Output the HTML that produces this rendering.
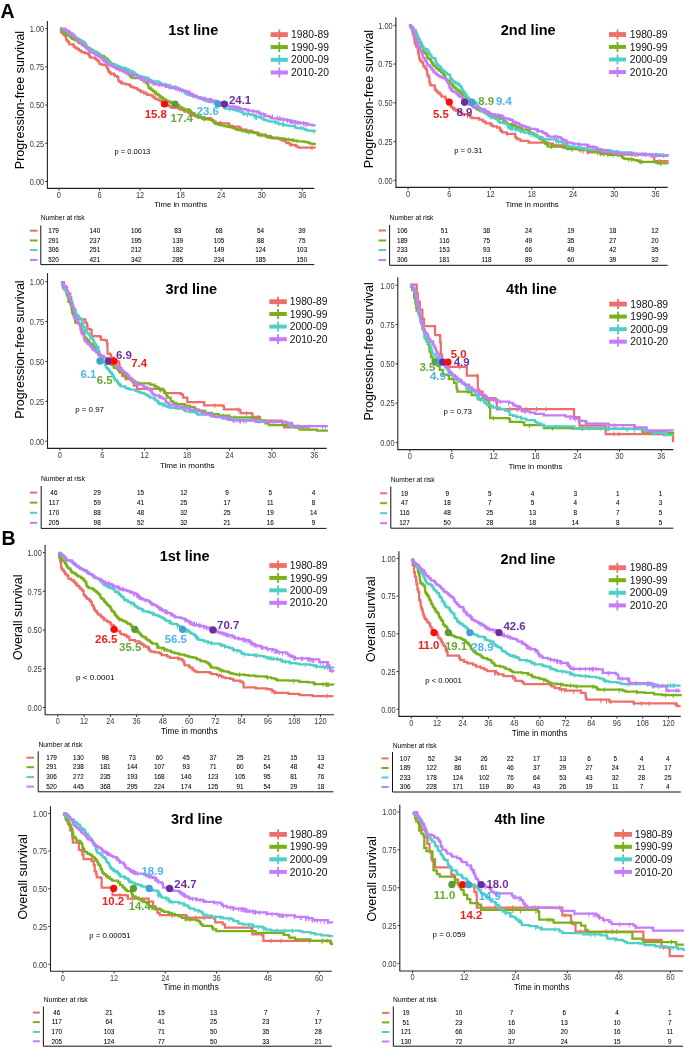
<!DOCTYPE html>
<html><head><meta charset="utf-8"><title>Kaplan-Meier curves</title>
<style>html,body{margin:0;padding:0;background:#fff;}body{width:685px;height:1048px;overflow:hidden;}svg{display:block;font-family:"Liberation Sans", sans-serif;will-change:transform;}</style>
</head><body>
<svg width="685" height="1048" viewBox="0 0 685 1048" font-family='"Liberation Sans", sans-serif'>
<text x="0.6" y="17.7" font-size="19.5" fill="#000" font-weight="bold">A</text>
<text x="1.4" y="545" font-size="19.5" fill="#000" font-weight="bold">B</text>
<path d="M47.4 20.9V188.4H314.3" fill="none" stroke="#222" stroke-width="1.1"/>
<text transform="translate(44.1 31.94) scale(0.9 1)" font-size="8.2" fill="#3a3a3a" text-anchor="end">1.00</text>
<text transform="translate(44.1 70.16) scale(0.9 1)" font-size="8.2" fill="#3a3a3a" text-anchor="end">0.75</text>
<text transform="translate(44.1 108.39) scale(0.9 1)" font-size="8.2" fill="#3a3a3a" text-anchor="end">0.50</text>
<text transform="translate(44.1 146.61) scale(0.9 1)" font-size="8.2" fill="#3a3a3a" text-anchor="end">0.25</text>
<text transform="translate(44.1 184.84) scale(0.9 1)" font-size="8.2" fill="#3a3a3a" text-anchor="end">0.00</text>
<text transform="translate(58.9 198.24) scale(0.9 1)" font-size="8.2" fill="#3a3a3a" text-anchor="middle">0</text>
<text transform="translate(99.48 198.24) scale(0.9 1)" font-size="8.2" fill="#3a3a3a" text-anchor="middle">6</text>
<text transform="translate(140.06 198.24) scale(0.9 1)" font-size="8.2" fill="#3a3a3a" text-anchor="middle">12</text>
<text transform="translate(180.64 198.24) scale(0.9 1)" font-size="8.2" fill="#3a3a3a" text-anchor="middle">18</text>
<text transform="translate(221.22 198.24) scale(0.9 1)" font-size="8.2" fill="#3a3a3a" text-anchor="middle">24</text>
<text transform="translate(261.8 198.24) scale(0.9 1)" font-size="8.2" fill="#3a3a3a" text-anchor="middle">30</text>
<text transform="translate(302.38 198.24) scale(0.9 1)" font-size="8.2" fill="#3a3a3a" text-anchor="middle">36</text>
<path d="M45.2 28.6H47.4M45.2 66.83H47.4M45.2 105.05H47.4M45.2 143.28H47.4M45.2 181.5H47.4M58.9 188.4V190.6M99.48 188.4V190.6M140.06 188.4V190.6M180.64 188.4V190.6M221.22 188.4V190.6M261.8 188.4V190.6M302.38 188.4V190.6" stroke="#333" stroke-width="1" fill="none"/>
<text x="180.7" y="207.11" font-size="7.8" fill="#000" text-anchor="middle">Time in months</text>
<text transform="translate(24.2 100) rotate(-90)" font-size="12.5" text-anchor="middle" fill="#000">Progression-free survival</text>
<text x="168.3" y="35" font-size="14.5" fill="#000" font-weight="bold">1st line</text>
<path d="M60.2 28.9H60.9V30.03H61.18V31.76H62.1V33.2H63.39V34.03H63.81V34.82H64.72V35.38H65.2V36.3H66.2V39.3H66.61V39.92H66.69V40.69H68.15V41.51H68.3V42.4H69.3V44.4H73.4V44.9H73.7V45.57H73.77V46.64H75.16V47.53H76.4V48.5H78.43V49.24H78.88V49.94H79.5V50.6H81.32V51.56H81.97V52.21H84.6V53.1H87.71V53.79H88.7V54.6H88.99V55.23H89.45V56.27H90.06V57.06H90.7V57.7H94.8V58.7H95.72V59.48H96.98V60.31H98.38V61.04H98.9V61.8H99.27V62.33H99.46V63.19H99.58V64.07H102V64.9H106.1V65.9H106.68V66.73H106.75V67.64H107.81V68.8H108.1V70H108.46V70.87H108.85V71.77H109.64V72.36H110.1V73H110.57V73.74H113.87V74.39H114.2V75.1H115.1V76.07H117.3V77.1H118.3V80.2H118.71V81.09H119.92V81.93H121.4V82.7H122.5V83.55H126V84.3H128.99V85.19H130.52V85.88H130.88V86.8H132.9V87.4H134.42V88.14H137.2V89.16H138.21V90.02H140.14V90.84H141V91.5H143.57V92.33H143.99V93.28H146.6V94.18H147.98V94.89H151.3V95.6H152.76V96.53H153.43V97.26H154.81V98.31H155.64V98.88H157.71V99.82H159.4V100.7H161.53V101.52H162.21V102.28H164V103.08H164.6V103.8H166.29V104.52H167.48V105.22H168.74V106.08H170.46V106.89H171.7V107.9H178.91V108.7H180V109.5H183.27V110.08H184.12V111.08H184.89V111.7H188.06V112.44H189.36V113.4H191.41V114.29H192.3V115.2H194.78V116.02H197.47V116.92H198.11V117.57H204.5V118.2H210.56V119.12H211.84V120.13H212.87V120.84H213.92V121.68H215.57V122.75H220.9V123.4H228.8V124.27H229.15V125.09H229.63V125.95H232.74V126.73H239.39V127.6H240.23V128.44H241.3V129.5H246.39V130.54H251.83V131.58H252.42V132.37H254.2V132.98H257.7V133.6H259.11V134.59H265.78V135.19H265.79V136.04H266.02V136.65H267.9V137.7H272.5V138.44H280.22V139.56H282.2V140.7H285.47V141.7H286.2V142.34H286.52V143.15H289.29V143.74H290.4V144.8H295.7V145.83H296.53V146.51H298.5V147.5H314.9V147.9" fill="none" stroke="#EE6E69" stroke-width="2.25" stroke-linejoin="miter" stroke-linecap="butt"/>
<path d="M110.83 71.07V75.67M120.83 79.94V84.54M140.69 89.04V93.64M146.5 91.39V95.99M192 112.76V117.36M204.57 115.92V120.52M220.37 120.93V125.53M258.28 131.53V136.13M258.78 131.74V136.34M261.17 132.7V137.3M290.98 142.69V147.29M311.89 145.53V150.13" stroke="#EE6E69" stroke-width="1" fill="none"/>
<path d="M60.1 28.6H60.92V28.96H61.09V29.56H61.6V30.19H62.3V30.62H62.45V31.27H62.66V31.84H64.2V32.2H65.28V32.62H65.76V33.18H66.33V33.58H66.49V34.18H67.06V34.71H68.3V35.2H69.26V35.77H69.63V36.3H70.69V36.67H70.87V37.3H71.06V37.92H72.09V38.48H72.19V38.94H73.89V39.36H74.9V39.81H75.4V40.3H77.26V40.73H77.99V41.28H78V41.79H78.6V42.31H78.91V42.87H80.24V43.3H81.34V43.85H81.93V44.35H82.41V44.83H82.87V45.41H84V46H85.04V46.42H85.9V46.93H86.14V47.41H88.69V47.9H88.9V48.47H90.15V49.01H90.47V49.42H90.88V49.99H92.8V50.6H93.55V51.18H94.29V51.69H95.74V52.19H96.9V52.6H97.53V53.19H98.7V53.68H98.88V54.16H99.17V54.6H99.28V55.15H100.9V55.7H102.46V56.12H103.88V56.63H104.05V57.04H105V57.65H105.19V58.28H106V58.7H106.94V59.12H107.45V59.67H107.98V60.3H108.14V60.77H108.78V61.31H109.59V61.7H109.77V62.29H110.1V62.8H110.82V63.38H111.65V63.78H113V64.4H113.24V64.94H115.17V65.45H116V66H117.83V66.52H118.1V67.05H119.56V67.47H120.15V67.96H121.59V68.45H122.4V69H122.77V69.41H125.38V69.86H125.57V70.48H126V71H126.87V71.67H128.25V72.16H128.64V72.81H128.73V73.37H128.96V74.14H129.41V74.89H129.9V75.63H130.38V76.48H130.8V77.2H132.02V77.69H133.44V78.05H140.16V78.66H141V79.3H142.86V79.77H143.08V80.21H143.78V80.76H145.42V81.25H145.78V81.78H145.83V82.35H146.01V82.82H147.2V83.4H147.82V84.13H148.06V84.78H148.37V85.34H148.46V85.9V86.42H148.64V87.13H148.69V87.91H149.83V88.51H151.23V89.07H151.36V89.96H152.8V90.72H153.3V91.5H155.18V91.97H155.49V92.48H155.79V92.91H156.01V93.4H156.1V93.92H157.9V94.45H158.33V94.96V95.41H159.71V95.83H160.08V96.55H160.3V97.05H161.5V97.7H163.01V98.3H163.29V98.97H163.73V99.39H165.51V99.9H166.36V100.41H166.48V100.83H168.02V101.42H168.31V101.9H168.89V102.3H172.45V102.8H173.41V103.23H174.8V103.8H177.09V104.34V104.9H177.66V105.38H179.2V105.73H179.32V106.27H179.36V106.83H180V107.4H181.87V108.02H182.28V108.48H183.85V108.9H184.04V109.39H189.22V110.01H189.84V110.59H190.4V111.12H190.59V111.62H191.02V112.19H191.47V112.73H192.3V113.1H194.32V113.67H194.6V114.21H194.71V114.56H195V115.16H195.68V115.75H196.66V116.27H200.14V116.75H200.63V117.27H202.35V117.86H203.15V118.3H203.6V118.92H204.5V119.3H210.12V119.79H211.99V120.32H212.58V120.96H213.52V121.62H214.11V122.29H214.18V122.76H215.08V123.35H215.99V123.99H217.77V124.39H219.1V124.79H220.9V125.4H224.08V126.01H226.22V126.42H227.81V126.91H230.37V127.41H232.76V127.87H234.08V128.41H235.22V129H236.87V129.52H238.22V130.05H241.3V130.5H245.06V131.04H245.49V131.44H246.65V132.09H253.64V132.66H256.89V133.1H257.48V133.72H257.55V134.17H257.72V134.63H258.47V135.22H261.7V135.6H266.14V136.16H269.47V136.63H270.26V137.22H271.25V137.72H277.72V138.32H282.2V138.7H284.45V139.12H286.24V139.64H291.49V140.23H293.3V140.66H297.23V141.28H302.6V141.7H305.43V142.1H307.88V142.72H309.57V143.18H310.11V143.54H313.14V144.17H314.9V144.8" fill="none" stroke="#78B11A" stroke-width="2.25" stroke-linejoin="miter" stroke-linecap="butt"/>
<path d="M116.19 63.79V68.39M143.75 78.82V83.42M151.06 86.22V90.82M154.87 90.39V94.99M155.81 91.1V95.7M161.77 95.52V100.12M170.83 99.68V104.28M174.09 101.18V105.78M177.5 103.37V107.97M182.68 106.34V110.94M187.2 108.44V113.04M198.32 113.86V118.46M201.72 115.59V120.19M203.88 116.68V121.28M242.85 128.59V133.19M248.99 130.12V134.72M269.47 134.48V139.08M271.57 134.79V139.39M288.88 137.38V141.98M293.31 138.03V142.63" stroke="#78B11A" stroke-width="1" fill="none"/>
<path d="M60.1 28.6H61.83V29.08H64.66V29.63H65.2V30.1H65.84V30.59H66.5V31.18H67.78V31.81H67.92V32.39H68.4V32.77H68.42V33.36H68.97V33.81H70.3V34.2H71.57V34.72H72.41V35.15H72.9V35.71H74.99V36.25H75.05V36.82H75.4V37.3H76.03V37.87H76.1V38.29H77.93V38.77H78.92V39.29H78.95V39.73H80.5V40.3H81.08V40.77H82.18V41.29H82.4V41.7H83.76V42.31H84.71V42.87H84.94V43.55H85V43.96H85.6V44.4H86.2V45.01H86.3V45.75H86.92V46.56H86.94V47.17H87.65V47.66H88.47V48.24H88.52V48.72H89.7V49.5H91.54V49.96H91.72V50.59H92.68V51.16H93.8V51.6H95.28V52.1H96.28V52.66H96.72V53.05H97.9V53.6H98.46V54.14H98.53V54.58H99.43V54.96H100.32V55.42H101.05V55.87H101.15V56.47H101.74V57.04H102V57.7H102.56V58.09H104.47V58.58H104.57V59.03H105.39V59.74H105.49V60.26H106.01V60.66H106.43V61.13H107.1V61.8H108.48V62.38H108.76V62.74H110.18V63.28H110.55V63.85H110.79V64.42H113.2V64.9H116.11V65.47H117.2V66H118.34V66.39H119.3V66.9H120.09V67.25H122.51V67.83H125.09V68.42H126V69H127.48V69.64H128.29V70.25H128.73V70.78H131.56V71.2H132.03V71.71H132.9V72.1H134.15V72.67H134.3V73.31H134.76V73.83H136.21V74.21H136.67V74.83H137.52V75.26H137.6V75.8H140.72V76.2H141.23V76.79H143.1V77.2H144.53V77.69H147.91V78.25H148.2V78.93H148.71V79.36H149.36V79.78H150.24V80.22H151.14V80.82H153.3V81.3H156.42V81.7H158.85V82.18H159.27V82.63H160.29V83.29H160.88V83.95H163.5V84.4H165.96V84.82H166.43V85.28H167.51V85.86H167.92V86.32H171.89V86.93H175.8V87.4H176.33V87.84H176.78V88.22H176.79V88.61H177.96V89.14H178.04V89.59H180V90.2H182.73V90.67H184.37V91.17H184.4V91.54H184.5V92.03H184.88V92.56H185.28V93.14H186.83V93.53H187.02V94.16H187.09V94.67H189.64V95.1H190.68V95.55H193.02V96.21H195.43V96.82H197.55V97.38H198.44V98.03H199.08V98.44H200.4V98.8H202.49V99.34H203.3V99.76H204.13V100.18H206.58V100.71H207.18V101.22H208.98V101.68H209.26V102.1H214.46V102.64H216.36V103.31H217.8V104H219.4V104.44H220.47V104.85H221.76V105.36H222.55V105.94H223.49V106.31H224.25V106.99H224.54V107.64H224.55V108.18H225.03V108.56H229V109H232.52V109.62H233.95V110.03H236.33V110.63H238.49V111.27H241.16V111.77H241.19V112.21H242.78V112.67H242.97V113.21H242.98V113.61H245.4V114.2H250.82V114.81H253.71V115.37H254.52V115.88H256.13V116.5H258.8V117.09H261.13V117.44H261.37V117.87H261.54V118.31H262.86V118.84H262.91V119.23H263.91V119.78H265.8V120.3H267.94V120.8H269.13V121.29H270.55V121.65H275.51V122.22H276.03V122.73H277.67V123.3H278.86V123.82H282.72V124.28H283.35V124.9H286.3V125.4H288.69V125.91H294.46V126.35H295.01V126.91H295.34V127.57H296.77V128.09H302.6V128.5H304.63V129.24H305.07V129.69H306.57V130.17H307.31V130.58H311.82V131.06H314.9V131.5" fill="none" stroke="#4FCFC7" stroke-width="2.25" stroke-linejoin="miter" stroke-linecap="butt"/>
<path d="M99.76 53.16V57.76M101.95 55.35V59.95M115.62 63.39V67.99M126.42 66.89V71.49M129.78 68.4V73M158.94 80.71V85.31M166.06 82.72V87.32M169.34 83.52V88.12M170.28 83.75V88.35M175.2 84.95V89.55M181.89 88.7V93.3M192.46 93.15V97.75M194.1 93.85V98.45M204.45 97.71V102.31M206.66 98.37V102.97M213.87 100.53V105.13M223.32 104.16V108.76M229.59 106.89V111.49M243.87 111.42V116.02M247.51 112.53V117.13M254.7 114.68V119.28M255.84 115.02V119.62M256.39 115.19V119.79M256.52 115.23V119.83M274.85 120.25V124.85M278.76 121.22V125.82M282.55 122.17V126.77M283.51 122.41V127.01M301.16 125.93V130.53M314.06 128.99V133.59" stroke="#4FCFC7" stroke-width="1" fill="none"/>
<path d="M60.1 28.6H65.2V29.1H65.63V29.57H65.69V30.16H65.9V30.65H67.88V31.18H68.68V31.73H69.3V32.2H69.82V32.48V32.87H71.59V33.35H72.01V33.68H72.17V34.11H72.96V34.4H73.18V34.72H73.4V35.2H73.8V36.05H74.41V36.57H74.77V37.47H75.95V38.01H76V38.7H76.4V39.3H76.97V39.6H77.33V39.97H78.2V40.33H78.86V40.62H79.17V41.11H79.74V41.57V41.92H80.1V42.42H80.66V42.89H81.5V43.4H82.35V43.8H82.82V44.21H83.43V44.6H83.44V45.19H84V45.73H85.56V46.32H85.86V46.95H85.95V47.59H86.03V48.14H86.6V48.5H88.16V49.11H88.39V49.69H88.45V50.08H88.74V50.47H89.49V51.06H89.87V51.59H90.24V51.99H90.7V52.6H93.98V53.13H94.63V53.58H95.22V54H95.69V54.32H95.83V54.79H96.23V55.27H96.9V55.7H98.42V56.21H98.73V56.67H100.43V57.28H101.32V58.04H102V58.7H102.46V59.4H103.29V60.03H103.78V60.68H104.03V61.11H104.47V61.58H105.06V62.2H106.1V62.8H107.09V63.38H108.14V63.89H108.27V64.33H109.54V64.78H110.09V65.41H111.2V65.9H112.46V66.25H113.06V66.61H113.52V66.98H114.58V67.4H114.67V67.85H115.08V68.23H116.95V68.55H117.3V68.9H119.28V69.53H119.74V70H121.21V70.49H122.4V71H122.89V71.49H124.32V72.29H126V73H126.93V73.28H128.35V73.74H131.31V74.03H131.46V74.35H132V74.82H132.9V75.2H136.63V75.86H136.8V76.39H137.35V76.8H137.49V77.42H139.46V78.03H140.22V78.49H141.42V78.88H143.1V79.3H145.46V79.88H145.5V80.38H146.42V80.95H148.97V81.41H149.9V81.89H151.22V82.43H152.05V83.02H153.3V83.4H154.79V83.84H155.84V84.18H157.6V84.67H159.62V85.05H163.5V85.4H165.41V85.89H166.18V86.26H166.9V86.76H169.25V87.15H169.73V87.5H170.16V87.83V88.21H175.8V88.5H179.52V89.04H180V89.6H182.59V90.16H183.29V90.83H185.58V91.33H187.3V91.94H189.32V92.47H189.82V92.97H189.85V93.44H190.02V93.99H191.56V94.59H191.94V95.14H192.71V95.65H194.54V96.13H196.24V96.67H196.93V97.16H200.4V97.8H202.82V98.4H202.92V98.97H205.05V99.36H210.62V99.75H211.67V100.25H212.39V100.66H215.83V101.29H216.8V101.9H218.24V102.48H218.39V103.06H222.36V103.44H224V104H226.15V104.62H226.56V105.25H227.77V105.82H229.28V106.46H231.11V106.93H234.74V107.59H239.35V107.96H240.13V108.52H241.3V109H245.42V109.37H245.63V109.65H246.12V109.95H247.16V110.34H248.51V110.64H252.95V111.07H253.75V111.44H257.37V111.74H258.19V112.04H258.57V112.29H259.06V112.61H259.14V112.95H259.48V113.36H260.21V113.79H261.7V114.2H264.39V114.56H264.7V114.98H264.94V115.38H264.97V115.75H265.21V116.01H269.1V116.41H269.54V116.83H270.07V117.19H270.91V117.51H271.07V117.86H271.91V118.29H276.69V118.63H277.64V119.02H282.2V119.3H284.18V119.71H285.9V120.08H288.34V120.4H290.4V120.78H290.56V121.19H293.28V121.59H293.49V121.93H294.4V122.3H297.06V122.67H298.95V122.96H303.71V123.37H306.96V123.73H307.73V124.23H308.18V124.56H311.68V125.02H312.02V125.39H314.9V125.8" fill="none" stroke="#C47CFB" stroke-width="2.25" stroke-linejoin="miter" stroke-linecap="butt"/>
<path d="M116.67 66.29V70.89M119.84 67.65V72.25M127.03 71.03V75.63M131.54 72.47V77.07M131.72 72.53V77.13M133.58 73.17V77.77M140.18 75.82V80.42M141.04 76.17V80.77M141.6 76.4V81M141.64 76.41V81.01M141.99 76.55V81.15M143.04 76.98V81.58M143.66 77.22V81.82M144.33 77.49V82.09M145.54 77.98V82.58M148.35 79.11V83.71M153.15 81.04V85.64M154.58 81.35V85.95M159.15 82.25V86.85M161.77 82.76V87.36M165.05 83.49V88.09M169.31 84.57V89.17M175.13 86.03V90.63M177.31 86.59V91.19M177.63 86.68V91.28M179.54 87.18V91.78M179.87 87.27V91.87M186.08 89.74V94.34M188.72 90.81V95.41M189.91 91.28V95.88M193.36 92.67V97.27M196.36 93.88V98.48M204.78 96.6V101.2M205.97 96.89V101.49M209.39 97.75V102.35M209.75 97.84V102.44M210.15 97.94V102.54M211.3 98.23V102.83M218.02 99.95V104.55M220.96 100.81V105.41M221.92 101.09V105.69M224.03 101.71V106.31M226.81 102.51V107.11M233.13 104.34V108.94M234.02 104.59V109.19M236.16 105.21V109.81M236.91 105.43V110.03M238.13 105.78V110.38M239.06 106.05V110.65M248.24 108.47V113.07M248.46 108.52V113.12M253.05 109.69V114.29M256.17 110.49V115.09M261.02 111.73V116.33M263.3 112.3V116.9M265.93 112.95V117.55M272.36 114.55V119.15M272.62 114.62V119.22M277.4 115.81V120.41M279.35 116.29V120.89M280.58 116.6V121.2M283.03 117.2V121.8M283.35 117.28V121.88M287.22 118.23V122.83M287.72 118.36V122.96M290.05 118.93V123.53M290.53 119.05V123.65M291.48 119.28V123.88M292.02 119.41V124.01M293.47 119.77V124.37M295.55 120.2V124.8M295.61 120.21V124.81M297.18 120.48V125.08M298.27 120.66V125.26M300.43 121.03V125.63M303.68 121.58V126.18M303.69 121.59V126.19M305.12 121.83V126.43M306.63 122.09V126.69" stroke="#C47CFB" stroke-width="1" fill="none"/>
<rect x="270.7" y="32.2" width="17.2" height="4.8" fill="#EE6E69"/>
<rect x="278.4" y="29.6" width="1.8" height="10" fill="#EE6E69"/>
<text x="291.1" y="38.29" font-size="10.3" fill="#111">1980-89</text>
<rect x="270.7" y="45.1" width="17.2" height="4" fill="#78B11A"/>
<rect x="278.4" y="42.1" width="1.8" height="10" fill="#78B11A"/>
<text x="291.1" y="50.79" font-size="10.3" fill="#111">1990-99</text>
<rect x="270.7" y="57.8" width="17.2" height="4" fill="#4FCFC7"/>
<rect x="278.4" y="54.8" width="1.8" height="10" fill="#4FCFC7"/>
<text x="291.1" y="63.49" font-size="10.3" fill="#111">2000-09</text>
<rect x="270.7" y="70.5" width="17.2" height="4" fill="#C47CFB"/>
<rect x="278.4" y="67.5" width="1.8" height="10" fill="#C47CFB"/>
<text x="291.1" y="76.19" font-size="10.3" fill="#111">2010-20</text>
<text x="114.6" y="154.19" font-size="7.5" fill="#000">p = 0.0013</text>
<circle cx="164.5" cy="104" r="3.6" fill="#FF0A0A"/>
<circle cx="175" cy="104" r="3.6" fill="#5E9A35"/>
<circle cx="218" cy="104" r="3.6" fill="#479FD0"/>
<circle cx="224.4" cy="104" r="3.6" fill="#6A2C9E"/>
<text x="144.7" y="118.28" font-size="11.4" fill="#F01D1D" font-weight="bold">15.8</text>
<text x="170.6" y="122.28" font-size="11.4" fill="#69A838" font-weight="bold">17.4</text>
<text x="196.7" y="115.28" font-size="11.4" fill="#4DB5EC" font-weight="bold">23.6</text>
<text x="229" y="103.78" font-size="11.4" fill="#6E2FA0" font-weight="bold">24.1</text>
<text x="40.7" y="220.23" font-size="6.75" fill="#000">Number at risk</text>
<path d="M40.8 225.5V264.6H314.3" fill="none" stroke="#111" stroke-width="1"/>
<rect x="30" y="229.7" width="7.5" height="2" fill="#EE6E69"/>
<text x="53.5" y="232.99" font-size="6.4" fill="#000" text-anchor="middle" stroke="#000" stroke-width="0.06">179</text>
<text x="94.9" y="232.99" font-size="6.4" fill="#000" text-anchor="middle" stroke="#000" stroke-width="0.06">140</text>
<text x="136.3" y="232.99" font-size="6.4" fill="#000" text-anchor="middle" stroke="#000" stroke-width="0.06">106</text>
<text x="177.7" y="232.99" font-size="6.4" fill="#000" text-anchor="middle" stroke="#000" stroke-width="0.06">83</text>
<text x="219.1" y="232.99" font-size="6.4" fill="#000" text-anchor="middle" stroke="#000" stroke-width="0.06">68</text>
<text x="260.5" y="232.99" font-size="6.4" fill="#000" text-anchor="middle" stroke="#000" stroke-width="0.06">54</text>
<text x="301.9" y="232.99" font-size="6.4" fill="#000" text-anchor="middle" stroke="#000" stroke-width="0.06">39</text>
<rect x="30" y="239.5" width="7.5" height="2" fill="#78B11A"/>
<text x="53.5" y="242.79" font-size="6.4" fill="#000" text-anchor="middle" stroke="#000" stroke-width="0.06">291</text>
<text x="94.9" y="242.79" font-size="6.4" fill="#000" text-anchor="middle" stroke="#000" stroke-width="0.06">237</text>
<text x="136.3" y="242.79" font-size="6.4" fill="#000" text-anchor="middle" stroke="#000" stroke-width="0.06">195</text>
<text x="177.7" y="242.79" font-size="6.4" fill="#000" text-anchor="middle" stroke="#000" stroke-width="0.06">139</text>
<text x="219.1" y="242.79" font-size="6.4" fill="#000" text-anchor="middle" stroke="#000" stroke-width="0.06">105</text>
<text x="260.5" y="242.79" font-size="6.4" fill="#000" text-anchor="middle" stroke="#000" stroke-width="0.06">88</text>
<text x="301.9" y="242.79" font-size="6.4" fill="#000" text-anchor="middle" stroke="#000" stroke-width="0.06">75</text>
<rect x="30" y="249.1" width="7.5" height="2" fill="#4FCFC7"/>
<text x="53.5" y="252.39" font-size="6.4" fill="#000" text-anchor="middle" stroke="#000" stroke-width="0.06">306</text>
<text x="94.9" y="252.39" font-size="6.4" fill="#000" text-anchor="middle" stroke="#000" stroke-width="0.06">251</text>
<text x="136.3" y="252.39" font-size="6.4" fill="#000" text-anchor="middle" stroke="#000" stroke-width="0.06">212</text>
<text x="177.7" y="252.39" font-size="6.4" fill="#000" text-anchor="middle" stroke="#000" stroke-width="0.06">182</text>
<text x="219.1" y="252.39" font-size="6.4" fill="#000" text-anchor="middle" stroke="#000" stroke-width="0.06">149</text>
<text x="260.5" y="252.39" font-size="6.4" fill="#000" text-anchor="middle" stroke="#000" stroke-width="0.06">124</text>
<text x="301.9" y="252.39" font-size="6.4" fill="#000" text-anchor="middle" stroke="#000" stroke-width="0.06">103</text>
<rect x="30" y="258.9" width="7.5" height="2" fill="#C47CFB"/>
<text x="53.5" y="262.19" font-size="6.4" fill="#000" text-anchor="middle" stroke="#000" stroke-width="0.06">520</text>
<text x="94.9" y="262.19" font-size="6.4" fill="#000" text-anchor="middle" stroke="#000" stroke-width="0.06">421</text>
<text x="136.3" y="262.19" font-size="6.4" fill="#000" text-anchor="middle" stroke="#000" stroke-width="0.06">342</text>
<text x="177.7" y="262.19" font-size="6.4" fill="#000" text-anchor="middle" stroke="#000" stroke-width="0.06">285</text>
<text x="219.1" y="262.19" font-size="6.4" fill="#000" text-anchor="middle" stroke="#000" stroke-width="0.06">234</text>
<text x="260.5" y="262.19" font-size="6.4" fill="#000" text-anchor="middle" stroke="#000" stroke-width="0.06">185</text>
<text x="301.9" y="262.19" font-size="6.4" fill="#000" text-anchor="middle" stroke="#000" stroke-width="0.06">150</text>
<path d="M395.9 17.3V187.4H667.7" fill="none" stroke="#222" stroke-width="1.1"/>
<text transform="translate(392.6 28.64) scale(0.9 1)" font-size="8.2" fill="#3a3a3a" text-anchor="end">1.00</text>
<text transform="translate(392.6 67.39) scale(0.9 1)" font-size="8.2" fill="#3a3a3a" text-anchor="end">0.75</text>
<text transform="translate(392.6 106.14) scale(0.9 1)" font-size="8.2" fill="#3a3a3a" text-anchor="end">0.50</text>
<text transform="translate(392.6 144.89) scale(0.9 1)" font-size="8.2" fill="#3a3a3a" text-anchor="end">0.25</text>
<text transform="translate(392.6 183.64) scale(0.9 1)" font-size="8.2" fill="#3a3a3a" text-anchor="end">0.00</text>
<text transform="translate(408 197.14) scale(0.9 1)" font-size="8.2" fill="#3a3a3a" text-anchor="middle">0</text>
<text transform="translate(449.25 197.14) scale(0.9 1)" font-size="8.2" fill="#3a3a3a" text-anchor="middle">6</text>
<text transform="translate(490.5 197.14) scale(0.9 1)" font-size="8.2" fill="#3a3a3a" text-anchor="middle">12</text>
<text transform="translate(531.75 197.14) scale(0.9 1)" font-size="8.2" fill="#3a3a3a" text-anchor="middle">18</text>
<text transform="translate(573 197.14) scale(0.9 1)" font-size="8.2" fill="#3a3a3a" text-anchor="middle">24</text>
<text transform="translate(614.25 197.14) scale(0.9 1)" font-size="8.2" fill="#3a3a3a" text-anchor="middle">30</text>
<text transform="translate(655.5 197.14) scale(0.9 1)" font-size="8.2" fill="#3a3a3a" text-anchor="middle">36</text>
<path d="M393.7 25.3H395.9M393.7 64.05H395.9M393.7 102.8H395.9M393.7 141.55H395.9M393.7 180.3H395.9M408 187.4V189.6M449.25 187.4V189.6M490.5 187.4V189.6M531.75 187.4V189.6M573 187.4V189.6M614.25 187.4V189.6M655.5 187.4V189.6" stroke="#333" stroke-width="1" fill="none"/>
<text x="532.1" y="206.93" font-size="7.85" fill="#000" text-anchor="middle">Time in months</text>
<text transform="translate(373 99) rotate(-90)" font-size="12.5" text-anchor="middle" fill="#000">Progression-free survival</text>
<text x="500.8" y="35" font-size="14.5" fill="#000" font-weight="bold">2nd line</text>
<path d="M409.4 25.1H410.59V26.83H410.96V28.37H412.2V30.2H412.51V32.23H412.79V34.33H413.87V36.73H414.2V38.4H414.47V40.45H414.79V42.6H415.11V44.23H416.2V46.6H417.7V48.29H417.83V50.35H418.15V52.32H418.3V53.7H418.8V55.26H419.13V57.3H419.39V59.12H420.3V60.9H421.59V62.36H422.93V63.33H423.07V64.56H423.4V66H424.69V67.58H425.85V68.8H426.5V70H427.09V71.6H427.34V73.72H427.38V75.33H428.5V77.2H429.33V78.67H429.41V80.87H429.7V83.31H430.5V85.4H434.6V87.4H435.09V88.48H435.18V89.98H436.53V91.37H437.7V92.5H439.57V93.79H440.57V95.42H441.8V96.6H445.24V98.12H445.9V99.7H448.15V100.82H448.9V102.2H450.03V103.74H450.04V105.19H451V106.8H452.58V108.2H454.35V109.62H456.1V110.9H459.65V112.45H462.2V114H468.85V115.46H470.4V117H471.69V118.19H479.11V119.69H482.6V120.7H483.61V121.77H485.89V123.35H491.3V125.1H492.76V126.27H497.11V127.7H500.1V129.5H500.94V130.76H502.18V132.38H506.7V133.9H515.19V135.23H515.31V136.77H516.04V138.17H517.6V139.3H520.55V140.94H528.6V142.6H548.1V143.6H552.68V145.33H566.75V146.76H567.8V148H578.8V150.2H587.6V152.4H600.7V153.1H622.6V154.6H653.2V155.3H654.3V161.2H667.5V162.3" fill="none" stroke="#EE6E69" stroke-width="2.25" stroke-linejoin="miter" stroke-linecap="butt"/>
<path d="M452.83 105.97V110.57M453.73 106.7V111.3M462.19 111.69V116.29M467.39 113.6V118.2M489.98 122.13V126.73M499.68 126.99V131.59M507.27 131.88V136.48M553.22 142.44V147.04M556.13 143.09V147.69M563.09 144.65V149.25M564.53 144.97V149.57M566.63 145.44V150.04M583.13 148.98V153.58M587.76 150.11V154.71M604.31 151.05V155.65M611.44 151.54V156.14M635.58 152.6V157.2M637.98 152.65V157.25M652.54 152.98V157.58M652.68 152.99V157.59M658.97 159.29V163.89M659.73 159.35V163.95" stroke="#EE6E69" stroke-width="1" fill="none"/>
<path d="M409.4 25.1H410.77V26.13H410.9V26.95H411.41V27.85H412.58V28.81H412.81V29.55H414.2V30.2H414.83V31.31H415.03V32.1H415.8V33.12H416.83V34.14H417.13V35.32H417.56V36.55H417.61V37.48H418.3V38.4H419.06V39.62H419.73V41.04H419.98V42.6H421.01V43.92H421.1V45.63H421.3V46.6H422.75V47.75H422.92V48.95H423.1V50.42H423.4V51.7H424.41V52.4H425.46V53.3H426.27V54.02H426.99V55.1H427.16V56.06H427.28V57.05H427.5V57.8H428.65V58.82H430.19V59.93H431V60.71H431.14V61.74H431.81V62.36H432.28V63.13H432.6V63.9H433.24V64.7H433.64V65.9H435.6V66.69H436.04V67.58H436.16V68.43H437.96V69.14H438.7V70H439.77V70.66H441.03V71.83H441.41V72.5H443.21V73.52H443.42V74.37H443.8V75.2H444.83V76.25H445V77.3H445.42V78.16H445.68V79.27H445.91V79.95H447.54V80.63H448.9V81.3H450.08V81.98H450.16V83.08H450.21V83.72H451.77V84.63H452.78V85.72H452.89V86.39H454V87.4H455.02V88.06H456.15V88.95H456.54V89.73H458.01V90.39H459.1V91.5H460.7V92.34H461.75V93.33H461.83V93.98H462.6V94.74H464.2V95.6H465.01V96.25H466.11V96.98V97.89H467.08V98.68H467.17V99.72H469.4V100.7H470.38V101.63H470.64V102.37H470.99V103.3H471.35V104.28H472.25V105.32H472.6V106.28H472.83V107.18H475V107.8H476.89V108.77H478.2V109.8H479.94V110.69H483.12V111.58H483.78V112.45H485.66V113.3H489.2V114.2H491.01V115.07H491.99V115.81H494.51V116.93H499.15V117.66H500.1V118.5H502.81V119.37H503.24V120.52H503.91V121.41H504.91V122.63H506.39V123.36H507.97V124.32H511V125.1H514.37V125.87H514.66V126.79H517.83V127.58H520.39V128.49H522V129.5H526.94V130.24H529.1V131.17H529.55V132.12H530.35V132.94H533V133.9H534.58V134.66H535.84V135.49H537.08V136.47H538.32V137.42H539.53V138.52H540.71V139.44H542.9V140.41H543.8V141.5H545.09V142.38H545.26V143.12H545.46V143.95H547.14V144.66H547.37V145.56H548.1V146.5H561.3V146.9H563.43V147.4H566.5V148.19H567.8V149.1H585.85V150.05H589.7V151.3H599.85V152.21H600.11V153.05H600.7V153.9H608.42V154.86H618.2V155.7H621.85V156.91H622.6V157.9H623.78V158.7H625.94V159.24H633.5V160.1H637.02V160.78H640.1V161.8H655.71V162.5H657.6V163.4H667.5V164" fill="none" stroke="#78B11A" stroke-width="2.25" stroke-linejoin="miter" stroke-linecap="butt"/>
<path d="M453 83.91V88.51M460.91 90.66V95.26M476.12 106.2V110.8M480.25 108.32V112.92M486.39 110.77V115.37M499.02 115.77V120.37M499.58 116V120.6M504.06 118.6V123.2M506.18 119.88V124.48M510.96 122.78V127.38M512.35 123.34V127.94M516.94 125.17V129.77M551.28 144.3V148.9M551.54 144.3V148.9M572.15 147.24V151.84M580.62 148.09V152.69M597.47 150.84V155.44M600.36 151.52V156.12M603.27 151.86V156.46M607.71 152.32V156.92M613.33 152.9V157.5M628.68 156.83V161.43M631.26 157.35V161.95M639.19 159.27V163.87M640.56 159.54V164.14M642.03 159.68V164.28M660.69 161.29V165.89" stroke="#78B11A" stroke-width="1" fill="none"/>
<path d="M409.4 25.1H410.07V25.71H410.11V26.58H412.37V27.39H412.49V28.12H413.12V28.81H413.93V29.56H414.2V30.2H415.7V31.21H415.84V32.46H416.47V33.57H416.72V34.97H417.54V35.94H417.6V36.96H417.62V38.26H418.3V39.4H418.76V40.09H419.16V40.81H419.21V41.64H419.69V42.16H421.04V42.74H421.3V43.5H421.87V44.64H422.21V46.11H423.22V47.46H423.4V48.6H425.78V49.2H427.2V49.85H427.5V50.6H428.3V51.41H428.84V52.09H429.05V52.93H429.5V53.7H429.79V54.7H430.7V55.49H431.45V56.52H431.6V57.8H434.6V58.8H435.52V59.87H435.59V61.22H436V62.63H436.7V63.9H437.19V64.7H438.18V65.35H438.68V66.14H439.87V66.66H440.55V67.17H440.8V68H441.13V68.72H441.57V69.24H442.47V70.02H442.72V70.64H443.8V71.1H444.47V71.73H445.18V72.39H445.45V73.2H446.9V74.1H448.51V74.73H449.85V75.36H450.07V75.83H450.11V76.32V77.07H450.18V77.81H450.78V78.4H451V79.2H452.02V79.74H452.34V80.37H453V81.1H453.52V81.91H454.74V82.59H456.1V83.3H458.58V84H459.08V84.75H459.46V85.62H460.2V86.4H461.3V87.28H461.49V88.09H461.91V88.93H462.38V89.85H462.79V90.76H463.2V91.5H463.74V92.28H464.88V93.01H465.46V93.86H465.54V94.7H466.12V95.32H466.82V96.26H467.01V96.85H467.3V97.6H468.57V98.12H469.13V98.87H469.38V99.38H469.86V100.01H471.19V100.86H471.4V101.7H472.64V102.41H476.14V103.2H476.56V103.87H476.81V104.44H477.12V105.19H477.25V105.74H477.61V106.47H478.17V107.11H478.91V107.92H479.2V108.7H479.74V109.18H480.4V109.8H482.03V110.43H483.75V111.14H484.41V111.73H484.6V112.16H485.15V112.78H487.64V113.48H487.95V114.15H488.25V114.82H488.41V115.52H489.2V116.3H490.8V116.85H491.54V117.56H493.89V118.14H495.53V118.78H496.89V119.31H497.95V120.15H498.23V120.97H498.41V121.49H499.28V122.06H500.1V122.9H504.64V123.55H507.13V124.36H507.56V124.91H507.98V125.69H508.23V126.23H508.39V126.97H508.54V127.57H511V128.4H515.29V129.06H515.96V129.83H518.88V130.4H519.76V131.16H522V131.7H524.01V132.54H528.64V133.09H529.11V133.99H533.28V134.5H533.5V135.13H535V136H536.36V136.91H541.68V137.68H542.14V138.28H542.71V138.79H545.9V139.3H555.96V140.26H556.27V140.82H556.9V141.5H560.59V142.16H562.85V142.97H564.45V143.84H566.59V144.64H566.84V145.25H567.8V145.8H569.26V146.4H574.19V147.23H578.8V148H583.35V148.71H586.49V149.58H600.7V150.2H610.61V150.86H611.67V151.48H618.2V152.4H631.18V153.02H633.5V153.9H639.63V154.48H660.61V155.12H667.5V155.7" fill="none" stroke="#4FCFC7" stroke-width="2.25" stroke-linejoin="miter" stroke-linecap="butt"/>
<path d="M455.63 80.62V85.22M457 81.68V86.28M464.72 91.47V96.07M465.1 92.03V96.63M480.5 107.58V112.18M491.13 115.17V119.77M508.19 124.68V129.28M509.36 125.27V129.87M510.6 125.9V130.5M511.65 126.3V130.9M512.43 126.53V131.13M515.56 127.47V132.07M515.74 127.52V132.12M520.6 128.98V133.58M530.03 132.05V136.65M532.18 132.77V137.37M542.77 136.05V140.65M558.78 139.94V144.54M567.55 143.4V148M578.47 145.63V150.23M581.08 145.93V150.53M584.43 146.27V150.87M606.3 148.6V153.2M608.66 148.9V153.5M616.82 149.93V154.53M630.35 151.29V155.89M631.09 151.36V155.96M633.26 151.58V156.18M633.84 151.62V156.22M646.24 152.27V156.87M655.72 152.78V157.38M656.47 152.82V157.42M663.26 153.18V157.78M663.79 153.2V157.8" stroke="#4FCFC7" stroke-width="1" fill="none"/>
<path d="M409.4 25.1H409.84V25.58H410.78V26.16H410.94V26.66H411.1V27.17H411.9V27.69H412.7V28.2H413.04V30.68H413.83V32.29H413.85V34.54H414.7V37.4H415.85V38.5H416.52V40.15H416.61V41.15H416.66V42.36H417.3V43.5H418.32V44.84H418.53V46.24H418.68V47.16H420.02V48.17V49.44H420.3V50.6H420.91V51.53H421.74V52.72H422.11V54.37H422.82V55.42H423.07V56.88H423.4V57.8H424.61V58.75H424.67V59.78H425.35V60.61H425.78V61.29H426.55V62.22H426.85V63.03H427.08V64.23H427.5V64.9H428.09V65.3H429.62V65.73H429.93V66.2H430.01V66.69H430.6V67.31H430.64V67.73H431.5V68.29H431.63V68.69H432.25V69.32H432.6V70H433.18V70.52H433.55V71.18H433.58V71.67H434.06V72.27H434.23V72.73H435.9V73.12H436.02V73.62H436.33V74.08H437.26V74.59H437.7V75.2H438.27V75.6H439.26V76.16H440.26V76.63H440.27V77.19H442.3V77.71H442.8V78.2H445.15V78.66H445.9V79.2H446.61V80.02H446.81V81.24H447.42V82.06H447.73V82.89H448.61V84.13H448.9V85.4H449.35V86.09H449.48V87.07H449.97V87.78H450.38V88.43H450.94V89.13H451.07V90.06H452.08V90.87H453V91.5H454.89V91.99H455.66V92.61H455.94V93.22H456.91V93.64H457.53V94.02H458.1V94.6H458.62V95.19H459.14V95.58H459.31V96.03H459.7V96.43H461.87V97.01H462.2V97.6H462.63V98.28H462.88V99.05H463.37V99.78H464.27V100.29H464.39V100.89H465.3V101.7H468.22V102.32H468.52V102.98H468.63V103.4H469.28V103.89H469.78V104.45H470.4V105H472.16V105.48H472.67V106.04H473.29V106.62H474.91V107.17H476.62V107.63H479.74V108.2H480.4V108.6H481.52V109.22H484.53V109.71H485.06V110.35H485.5V110.91H486.06V111.5H486.32V112.02H487.99V112.57H489.08V113.06H489.76V113.65H491.3V114.2H494.21V114.66H497.66V115.22H500.88V115.72H502.08V116.33H503V117.02H503.36V117.41V117.85H504.5V118.5H509.39V119.06H510.09V119.77H512.06V120.22H512.66V120.88H512.76V121.53H513.35V121.92H514.05V122.34H515.4V122.9H516.79V123.45H518.91V124.16H519.22V124.71H520.39V125.28H522.33V125.66H523.22V126.16H523.64V126.6H526.4V127.3H529.03V127.88H529.33V128.37H530.44V128.89H535V129.4H536.58V129.96H536.96V130.65H537.37V131.09H541.6V131.6H542.5V132.39H543.6V132.89H544.79V133.51H546.69V134.2H547.01V134.8H547.61V135.5H548.1V136H549.2V136.68H556.9V137.1H560.56V137.79H560.76V138.31H561.98V139.12H562.85V139.92H563.91V140.41H566.21V140.88H566.26V141.34H567.17V142.06H567.8V142.6H571.83V143.31H573.99V143.95H578.8V144.7H587.49V145.43H587.53V146.25H588.48V146.88H594.1V147.4H596.99V148.11H597.65V149.03H600.02V149.56H600.7V150.2H604.86V150.97H605.48V151.75H611.6V152.4H613.85V153.21H622.6V153.9H644.5V154.6H652.07V155.2H652.41V155.94H667.5V156.8" fill="none" stroke="#C47CFB" stroke-width="2.25" stroke-linejoin="miter" stroke-linecap="butt"/>
<path d="M450.59 85.61V90.21M457.19 91.75V96.35M457.56 91.97V96.57M459.37 93.23V97.83M460.2 93.84V98.44M468.32 101.35V105.95M475.45 104.52V109.12M483.45 107.87V112.47M487.64 110.02V114.62M488.43 110.42V115.02M488.74 110.58V115.18M489.91 111.19V115.79M495.33 113.21V117.81M498.38 114.21V118.81M501.85 115.34V119.94M503.98 116.03V120.63M506.02 116.81V121.41M507.02 117.22V121.82M512.49 119.42V124.02M515.67 120.71V125.31M516.1 120.88V125.48M516.16 120.9V125.5M518.62 121.89V126.49M519.24 122.14V126.74M519.96 122.42V127.02M525.7 124.72V129.32M537.96 128.09V132.69M538.44 128.25V132.85M546.01 132.29V136.89M554.45 134.49V139.09M556.47 134.75V139.35M558.43 135.57V140.17M561.68 137.21V141.81M565.62 139.2V143.8M565.74 139.26V143.86M579.81 142.58V147.18M586.86 143.82V148.42M587.72 143.97V148.57M588.38 144.09V148.69M589.99 144.37V148.97M592.81 144.87V149.47M595.17 145.55V150.15M596.17 145.98V150.58M600.97 147.96V152.56M602.11 148.18V152.78M602.75 148.31V152.91M605.6 148.89V153.49M617.96 150.97V155.57M618.41 151.03V155.63M620.26 151.28V155.88M631.37 151.88V156.48M632.29 151.91V156.51M642.67 152.24V156.84M645.28 152.37V156.97M649.2 152.75V157.35M650.99 152.92V157.52M651.18 152.94V157.54M651.65 152.98V157.58M652.64 153.08V157.68" stroke="#C47CFB" stroke-width="1" fill="none"/>
<rect x="609" y="32.1" width="17" height="4.8" fill="#EE6E69"/>
<rect x="616.6" y="29.5" width="1.8" height="10" fill="#EE6E69"/>
<text x="629.7" y="38.19" font-size="10.3" fill="#111">1980-89</text>
<rect x="609" y="44.9" width="17" height="4" fill="#78B11A"/>
<rect x="616.6" y="41.9" width="1.8" height="10" fill="#78B11A"/>
<text x="629.7" y="50.59" font-size="10.3" fill="#111">1990-99</text>
<rect x="609" y="57.5" width="17" height="4" fill="#4FCFC7"/>
<rect x="616.6" y="54.5" width="1.8" height="10" fill="#4FCFC7"/>
<text x="629.7" y="63.19" font-size="10.3" fill="#111">2000-09</text>
<rect x="609" y="70.1" width="17" height="4" fill="#C47CFB"/>
<rect x="616.6" y="67.1" width="1.8" height="10" fill="#C47CFB"/>
<text x="629.7" y="75.79" font-size="10.3" fill="#111">2010-20</text>
<text x="454.2" y="152.56" font-size="7.7" fill="#000">p = 0.31</text>
<circle cx="449.3" cy="102.1" r="3.6" fill="#FF0A0A"/>
<circle cx="464.6" cy="102.1" r="3.6" fill="#5E9A35"/>
<circle cx="464.6" cy="102.1" r="3.6" fill="#6A2C9E"/>
<circle cx="472.1" cy="102.1" r="3.6" fill="#479FD0"/>
<text x="433" y="118.48" font-size="11.4" fill="#F01D1D" font-weight="bold">5.5</text>
<text x="478.3" y="104.68" font-size="11.4" fill="#69A838" font-weight="bold">8.9</text>
<text x="495.9" y="104.68" font-size="11.4" fill="#4DB5EC" font-weight="bold">9.4</text>
<text x="456.4" y="115.78" font-size="11.4" fill="#6E2FA0" font-weight="bold">8.9</text>
<text x="389.6" y="220.23" font-size="6.75" fill="#000">Number at risk</text>
<path d="M389.6 225V265.3H667.7" fill="none" stroke="#111" stroke-width="1"/>
<rect x="378.6" y="229.5" width="7.4" height="2" fill="#EE6E69"/>
<text x="402.3" y="232.79" font-size="6.4" fill="#000" text-anchor="middle" stroke="#000" stroke-width="0.06">106</text>
<text x="444.4" y="232.79" font-size="6.4" fill="#000" text-anchor="middle" stroke="#000" stroke-width="0.06">51</text>
<text x="486.5" y="232.79" font-size="6.4" fill="#000" text-anchor="middle" stroke="#000" stroke-width="0.06">38</text>
<text x="528.6" y="232.79" font-size="6.4" fill="#000" text-anchor="middle" stroke="#000" stroke-width="0.06">24</text>
<text x="570.7" y="232.79" font-size="6.4" fill="#000" text-anchor="middle" stroke="#000" stroke-width="0.06">19</text>
<text x="612.8" y="232.79" font-size="6.4" fill="#000" text-anchor="middle" stroke="#000" stroke-width="0.06">18</text>
<text x="654.9" y="232.79" font-size="6.4" fill="#000" text-anchor="middle" stroke="#000" stroke-width="0.06">12</text>
<rect x="378.6" y="239.5" width="7.4" height="2" fill="#78B11A"/>
<text x="402.3" y="242.79" font-size="6.4" fill="#000" text-anchor="middle" stroke="#000" stroke-width="0.06">189</text>
<text x="444.4" y="242.79" font-size="6.4" fill="#000" text-anchor="middle" stroke="#000" stroke-width="0.06">116</text>
<text x="486.5" y="242.79" font-size="6.4" fill="#000" text-anchor="middle" stroke="#000" stroke-width="0.06">75</text>
<text x="528.6" y="242.79" font-size="6.4" fill="#000" text-anchor="middle" stroke="#000" stroke-width="0.06">49</text>
<text x="570.7" y="242.79" font-size="6.4" fill="#000" text-anchor="middle" stroke="#000" stroke-width="0.06">35</text>
<text x="612.8" y="242.79" font-size="6.4" fill="#000" text-anchor="middle" stroke="#000" stroke-width="0.06">27</text>
<text x="654.9" y="242.79" font-size="6.4" fill="#000" text-anchor="middle" stroke="#000" stroke-width="0.06">20</text>
<rect x="378.6" y="249.1" width="7.4" height="2" fill="#4FCFC7"/>
<text x="402.3" y="252.39" font-size="6.4" fill="#000" text-anchor="middle" stroke="#000" stroke-width="0.06">233</text>
<text x="444.4" y="252.39" font-size="6.4" fill="#000" text-anchor="middle" stroke="#000" stroke-width="0.06">153</text>
<text x="486.5" y="252.39" font-size="6.4" fill="#000" text-anchor="middle" stroke="#000" stroke-width="0.06">93</text>
<text x="528.6" y="252.39" font-size="6.4" fill="#000" text-anchor="middle" stroke="#000" stroke-width="0.06">66</text>
<text x="570.7" y="252.39" font-size="6.4" fill="#000" text-anchor="middle" stroke="#000" stroke-width="0.06">49</text>
<text x="612.8" y="252.39" font-size="6.4" fill="#000" text-anchor="middle" stroke="#000" stroke-width="0.06">42</text>
<text x="654.9" y="252.39" font-size="6.4" fill="#000" text-anchor="middle" stroke="#000" stroke-width="0.06">35</text>
<rect x="378.6" y="259.1" width="7.4" height="2" fill="#C47CFB"/>
<text x="402.3" y="262.39" font-size="6.4" fill="#000" text-anchor="middle" stroke="#000" stroke-width="0.06">306</text>
<text x="444.4" y="262.39" font-size="6.4" fill="#000" text-anchor="middle" stroke="#000" stroke-width="0.06">181</text>
<text x="486.5" y="262.39" font-size="6.4" fill="#000" text-anchor="middle" stroke="#000" stroke-width="0.06">118</text>
<text x="528.6" y="262.39" font-size="6.4" fill="#000" text-anchor="middle" stroke="#000" stroke-width="0.06">89</text>
<text x="570.7" y="262.39" font-size="6.4" fill="#000" text-anchor="middle" stroke="#000" stroke-width="0.06">60</text>
<text x="612.8" y="262.39" font-size="6.4" fill="#000" text-anchor="middle" stroke="#000" stroke-width="0.06">39</text>
<text x="654.9" y="262.39" font-size="6.4" fill="#000" text-anchor="middle" stroke="#000" stroke-width="0.06">32</text>
<path d="M47.5 273.2V448.4H326.7" fill="none" stroke="#222" stroke-width="1.1"/>
<text transform="translate(44.2 285.04) scale(0.9 1)" font-size="8.2" fill="#3a3a3a" text-anchor="end">1.00</text>
<text transform="translate(44.2 324.91) scale(0.9 1)" font-size="8.2" fill="#3a3a3a" text-anchor="end">0.75</text>
<text transform="translate(44.2 364.79) scale(0.9 1)" font-size="8.2" fill="#3a3a3a" text-anchor="end">0.50</text>
<text transform="translate(44.2 404.66) scale(0.9 1)" font-size="8.2" fill="#3a3a3a" text-anchor="end">0.25</text>
<text transform="translate(44.2 444.54) scale(0.9 1)" font-size="8.2" fill="#3a3a3a" text-anchor="end">0.00</text>
<text transform="translate(59.8 458.24) scale(0.9 1)" font-size="8.2" fill="#3a3a3a" text-anchor="middle">0</text>
<text transform="translate(102.23 458.24) scale(0.9 1)" font-size="8.2" fill="#3a3a3a" text-anchor="middle">6</text>
<text transform="translate(144.66 458.24) scale(0.9 1)" font-size="8.2" fill="#3a3a3a" text-anchor="middle">12</text>
<text transform="translate(187.09 458.24) scale(0.9 1)" font-size="8.2" fill="#3a3a3a" text-anchor="middle">18</text>
<text transform="translate(229.52 458.24) scale(0.9 1)" font-size="8.2" fill="#3a3a3a" text-anchor="middle">24</text>
<text transform="translate(271.95 458.24) scale(0.9 1)" font-size="8.2" fill="#3a3a3a" text-anchor="middle">30</text>
<text transform="translate(314.38 458.24) scale(0.9 1)" font-size="8.2" fill="#3a3a3a" text-anchor="middle">36</text>
<path d="M45.3 281.7H47.5M45.3 321.57H47.5M45.3 361.45H47.5M45.3 401.32H47.5M45.3 441.2H47.5M59.8 448.4V450.6M102.23 448.4V450.6M144.66 448.4V450.6M187.09 448.4V450.6M229.52 448.4V450.6M271.95 448.4V450.6M314.38 448.4V450.6" stroke="#333" stroke-width="1" fill="none"/>
<text x="187.3" y="467.9" font-size="8.05" fill="#000" text-anchor="middle">Time in months</text>
<text transform="translate(23.9 349.5) rotate(-90)" font-size="12.5" text-anchor="middle" fill="#000">Progression-free survival</text>
<text x="165.5" y="293.9" font-size="14.5" fill="#000" font-weight="bold">3rd line</text>
<path d="M61.5 282H63.95V285.52H64.6V290.2H66.1V293.3H70.2V297.4H71.2V303.5H72.3V309.6H75.3V313.7H76.15V316.58H78.4V319.3H85H85.5V322.9H87.07V325.84H87.6V329H90.6V330H91.7V336.2H99.8V336.7H100.9V339.8H104.9V340.3H107V343.3H107.5V353.5H110V354.6H111.1V357.6H114V361H117.2V361.7H119.2V364.8H119.64V367.89H121.3V369.9H122.3V376H125.4V379.1H132.6V382.3H133.88V385.54H137V388.9H163.2V390H164.3V393.2H180.8V394.3H183V397.6H187.3V402H203.1V402.1H204.2V405.4H222.8V405.8H223.9V409.3H239.3V409.8H240.4V413.1H251.3V413.7H252.4V416.8H259V417.4H260.1V420.7H282V421.8H282.47V424.56H284.2V427.3H308.2V427.5" fill="none" stroke="#EE6E69" stroke-width="2.25" stroke-linejoin="miter" stroke-linecap="butt"/>
<path d="M106.78 340.69V345.29M214.85 403.33V407.93M237.88 407.45V412.05M246.67 411.15V415.75M258.43 415.05V419.65M302.88 425.16V429.76" stroke="#EE6E69" stroke-width="1" fill="none"/>
<path d="M61.5 282H62.24V283.01H62.43V284.35H62.63V286.06H62.92V287.05H63.44V288.39H65.72V289.93H66.1V291.2H66.78V292.71H66.84V294.18H66.93V295.74H68.07V297.49H68.42V298.67H68.43V300.45H68.5V301.79H70.2V303.5H70.99V305.41H71.55V307.53H71.57V309.2H71.89V310.49H72.18V312.67H72.93V314.62H73.79V316.26H74.3V317.8H75.02V319.17H75.1V320.36H75.19V321.53H75.69V322.76H78.4V323.9H80.56V324.87H80.92V326.05H81.09V327.43H81.24V328.95H81.83V330.03H82.2V331.51H83.5V333.1H84.35V334.8H84.45V336.29H84.55V337.53H85.94V338.61H87.09V340.12H88.6V341.3H89.2V342.68H89.99V343.97H92.62V345.68H93.7V347.4H95.95V348.55H96.37V350.39H96.39V351.89H98.34V353.15H98.36V354.32H98.8V355.6H101.53V356.9H102.16V358.36H102.56V359.34H102.9V360.7H107V361.7H109.49V362.93H111.1V364.8H113.59V366.68H114.03V367.76H117.2V368.9H117.99V370.01H119.14V371.36H120.13V372.52H123.3V374H125.57V375.45H126.09V376.96H127.4V378.1H130.71V379.75H131.73V380.91H135.21V382.46H137V383.4H150.1V384.5H154.32V386.1H156.41V387.68H158.9V388.9H161.56V390.07H163.95V391.42H164.76V392.83H166.46V394.64H166.56V395.9H167.6V397.6H170.56V398.59H170.7V399.86H170.89V401.33H173.13V402.96H176.4V404.2H184.72V405.56H190V407.1H194.67V408.57H196.04V409.72H198.8V410.9H205.02V412.81H211.9V414.2H218.67V415.74H229.4V417.4H251.3V418.5H257.47V420.33H264.4V421.8H265.37V423.25H268.8V425.1H288.5V426.2H296.38V427.86H299.5V429.5H317V430.6H326.8V431.7" fill="none" stroke="#78B11A" stroke-width="2.25" stroke-linejoin="miter" stroke-linecap="butt"/>
<path d="M139.17 381.28V385.88M159.41 387.11V391.71M160.3 388V392.6M173.51 399.73V404.33M182.79 403.26V407.86M194.56 406.77V411.37M202.39 409.51V414.11M223.04 413.94V418.54M223.32 413.99V418.59M234.78 415.37V419.97M255.18 417.18V421.78" stroke="#78B11A" stroke-width="1" fill="none"/>
<path d="M61.5 282H62.38V283.2H62.61V284.09H62.82V285.13H63.97V286.21H64.12V287.1H64.59V288.23H65.1V289.2H65.64V290.15H65.9V291.05H65.97V292.25H66.3V293.24H68.27V294.23H68.6V295.46H68.63V296.6H69.2V297.4H69.76V298.6H70.63V299.54H70.94V300.96H71.95V302.18H72.33V303.71H72.42V304.89H72.84V306.15H73.3V307.6H74.01V308.81H74.25V309.59H75.46V310.79H75.6V312.01H75.73V313.05H76V313.96H76.12V314.97H77.4V315.8H78.68V316.82H78.72V317.77H80.4V318.8H81.87V320.43H82.04V321.64H82.83V322.83H83.03V324.29H83.28V325.82H83.5V327H84.46V327.74H84.82V328.92H85V330.14H85.93V331.28H86.6V332.1H87.31V333.42H88.92V334.28H89.6V335.2H90.33V336.1H90.41V337.2H90.61V338.25H92.7V339.2H93.14V340.19H93.68V341.04H93.79V342.25H94.54V343.58H95.43V344.38H95.8V345.4H96.53V346.2H96.69V347.24H98.4V348.39H98.5V349.33H98.52V350.55H98.8V351.5H99.55V352.84V354.49H100.19V356.19H100.9V357.6H101.26V358.52H101.37V359.33H101.49V360.53H102.9V361.7H104.03V362.44H104.48V363.14H105.14V364.12H105.16V364.93H105.77V365.82H106V366.8H106.43V367.89H107.37V368.61H108.39V369.61H108.92V370.29H109.21V371.23H110.1V371.9H110.66V372.88H112.03V373.63H112.12V374.69H113.25V375.77V376.53H113.64V377.32H114.1V378.1H114.72V378.93H115.14V379.55H115.23V380.25H117V380.89H117.07V381.71H117.85V382.71H118.1V383.7H119.4V384.5H120.71V385.46H120.87V386.39H125.38V387.21H125.4V388.06H128.2V388.9H129.93V389.52H135.02V390.61H136.55V391.3H139.2V392.1H140.37V392.97H143.96V393.89H145.97V394.91H147.79V395.88H149.25V396.64H150.1V397.6H153.71V398.62H155.1V399.61H155.9V400.66H157.71V401.63H158.21V402.55H159.2V403.27H161V404.2H164.27V405.01H164.89V406.07H167.29V406.89H170.6V407.75H176.4V408.6H183.7V409.51H184.61V410.25H185.6V411.27H190V412H196.11V412.91H196.87V413.84H198.16V414.71H209.71V415.48H211.9V416.3H217.34V417.16H221.85V418.11H222.54V418.7H233.8V419.6H251.44V420.6H262.3V421.8H286.3V422.9H288.26V424.18H289.47V425.19H290.7V426.2H309.3V426.9" fill="none" stroke="#4FCFC7" stroke-width="2.25" stroke-linejoin="miter" stroke-linecap="butt"/>
<path d="M99.93 352.49V357.09M119.71 382.36V386.96M157.45 399.75V404.35M159.33 400.89V405.49M162.09 402.21V406.81M162.92 402.45V407.05M168.86 404.15V408.75M198.16 411.3V415.9M226.82 416.25V420.85M232.3 417.07V421.67M258.94 419.24V423.84M265.06 419.63V424.23M277.07 420.18V424.78M296 424.1V428.7M298.15 424.18V428.78M298.91 424.21V428.81" stroke="#4FCFC7" stroke-width="1" fill="none"/>
<path d="M61.5 282H61.97V282.67H62.93V283.63H63.6V284.74H63.71V285.6H64.3V286.25H66.1V287.2H67.2V291.2H67.72V292.47H68.49V293.93H68.71V295.58H69.92V297.6H69.97V298.9H70.2V300.4H70.79V301.85H71.48V303.29H71.74V304.74H71.78V305.63H73.08V307.08H73.3V308.6H74.3V317.8H74.98V318.56H76.34V319.34H76.9V320.12H77.13V321.06H77.22V321.97H78.4V322.9H79.24V324.23H79.75V325.97H80.28V327.71H80.31V329.46H81.18V331.11H81.5V333.1H82.24V334.01H83.51V335.34H83.73V336.49H83.96V337.46H84.21V338.35H84.39V339.53H84.7V340.44H85.5V341.3H86.56V342.24H87.14V342.79H87.56V343.45H87.98V344.12H89.68V345.05H89.93V345.67H90.6V346.4H91.63V347.16H91.79V348.13H92.91V349.21H92.92V349.9H94.29V350.63H95.8V351.5H96.64V352.56H98.08V353.32H98.35V354.04H99.03V354.84H100.9V355.6H103.48V356.47H103.9V357.6H106.66V358.49H107.32V359.32H107.95V360.2H108.6V361H110.6V362.03H113.07V362.88H115.75V363.86H116.2V364.8H116.72V365.6H117.92V366.88H117.95V368.01H118.92V368.89H121.3V369.9H121.9V370.99H122.76V371.74H124.74V372.87H126.4V374H127.75V375.02V375.78H129.32V377.06H129.35V377.98H131.36V379.03H132V380H133.07V380.78H134.26V381.69H134.7V382.64H134.89V383.53H137V384.5H142.7V385.58H143.73V386.78H146.68V387.95H147.9V388.9H149.9V389.97H151.21V391.12H151.62V392.36H152.21V393.59H153.3V394.72H155.24V395.61H159.18V396.4H161V397.6H162.77V398.61H165.25V399.76H165.28V400.58H165.94V401.52H166.47V402.7H168.22V403.82H169.07V404.55H174.61V405.73H176.4V406.4H180.7V407.64H187.26V408.65H190V409.8H196.9V410.66H200.85V411.9H203.15V413.08H205.04V413.85H210.43V414.74H211.9V415.7H214.09V416.85H225.81V417.79H227.75V418.98H228.71V419.86H233.8V420.7H255.7V421.8H286.3V422.9H291.96V424.82H292.9V426.2H326.8V427.3" fill="none" stroke="#C47CFB" stroke-width="2.25" stroke-linejoin="miter" stroke-linecap="butt"/>
<path d="M116.48 362.78V367.38M117.59 363.89V368.49M123.5 369.37V373.97M128.77 374.24V378.84M147.51 386.44V391.04M149.74 387.82V392.42M158.7 393.77V398.37M159.66 394.41V399.01M172.69 401.98V406.58M183.24 405.81V410.41M184.15 406.04V410.64M190.33 407.59V412.19M201.38 410.57V415.17M206.02 411.81V416.41M210.31 412.97V417.57M233.79 418.4V423M233.99 418.41V423.01M239.44 418.68V423.28M240.48 418.74V423.34M243.77 418.9V423.5M245.84 419V423.6M272.06 420.09V424.69M274.04 420.16V424.76M309.54 424.44V429.04M322.23 424.85V429.45M325.34 424.95V429.55" stroke="#C47CFB" stroke-width="1" fill="none"/>
<rect x="269.3" y="299.3" width="17.5" height="4.8" fill="#EE6E69"/>
<rect x="277.15" y="296.7" width="1.8" height="10" fill="#EE6E69"/>
<text x="289.7" y="305.39" font-size="10.3" fill="#111">1980-89</text>
<rect x="269.3" y="312" width="17.5" height="4" fill="#78B11A"/>
<rect x="277.15" y="309" width="1.8" height="10" fill="#78B11A"/>
<text x="289.7" y="317.69" font-size="10.3" fill="#111">1990-99</text>
<rect x="269.3" y="324.6" width="17.5" height="4" fill="#4FCFC7"/>
<rect x="277.15" y="321.6" width="1.8" height="10" fill="#4FCFC7"/>
<text x="289.7" y="330.29" font-size="10.3" fill="#111">2000-09</text>
<rect x="269.3" y="337.2" width="17.5" height="4" fill="#C47CFB"/>
<rect x="277.15" y="334.2" width="1.8" height="10" fill="#C47CFB"/>
<text x="289.7" y="342.89" font-size="10.3" fill="#111">2010-20</text>
<text x="75.3" y="411.81" font-size="7.85" fill="#000">p = 0.97</text>
<circle cx="99.9" cy="361.1" r="3.6" fill="#479FD0"/>
<circle cx="108.6" cy="361.1" r="3.6" fill="#5E9A35"/>
<circle cx="108.6" cy="361.1" r="3.6" fill="#6A2C9E"/>
<circle cx="114" cy="361.1" r="3.6" fill="#FF0A0A"/>
<text x="131.2" y="366.88" font-size="11.4" fill="#F01D1D" font-weight="bold">7.4</text>
<text x="96.8" y="383.98" font-size="11.4" fill="#69A838" font-weight="bold">6.5</text>
<text x="80.4" y="377.78" font-size="11.4" fill="#4DB5EC" font-weight="bold">6.1</text>
<text x="115.9" y="358.58" font-size="11.4" fill="#6E2FA0" font-weight="bold">6.9</text>
<text x="40.9" y="481.43" font-size="6.75" fill="#000">Number at risk</text>
<path d="M41.2 486V528.4H326.5" fill="none" stroke="#111" stroke-width="1"/>
<rect x="29.9" y="491.6" width="7.3" height="2" fill="#EE6E69"/>
<text x="53.9" y="494.89" font-size="6.4" fill="#000" text-anchor="middle" stroke="#000" stroke-width="0.06">46</text>
<text x="97.17" y="494.89" font-size="6.4" fill="#000" text-anchor="middle" stroke="#000" stroke-width="0.06">29</text>
<text x="140.44" y="494.89" font-size="6.4" fill="#000" text-anchor="middle" stroke="#000" stroke-width="0.06">15</text>
<text x="183.71" y="494.89" font-size="6.4" fill="#000" text-anchor="middle" stroke="#000" stroke-width="0.06">12</text>
<text x="226.98" y="494.89" font-size="6.4" fill="#000" text-anchor="middle" stroke="#000" stroke-width="0.06">9</text>
<text x="270.25" y="494.89" font-size="6.4" fill="#000" text-anchor="middle" stroke="#000" stroke-width="0.06">5</text>
<text x="313.52" y="494.89" font-size="6.4" fill="#000" text-anchor="middle" stroke="#000" stroke-width="0.06">4</text>
<rect x="29.9" y="501.6" width="7.3" height="2" fill="#78B11A"/>
<text x="53.9" y="504.89" font-size="6.4" fill="#000" text-anchor="middle" stroke="#000" stroke-width="0.06">117</text>
<text x="97.17" y="504.89" font-size="6.4" fill="#000" text-anchor="middle" stroke="#000" stroke-width="0.06">59</text>
<text x="140.44" y="504.89" font-size="6.4" fill="#000" text-anchor="middle" stroke="#000" stroke-width="0.06">41</text>
<text x="183.71" y="504.89" font-size="6.4" fill="#000" text-anchor="middle" stroke="#000" stroke-width="0.06">25</text>
<text x="226.98" y="504.89" font-size="6.4" fill="#000" text-anchor="middle" stroke="#000" stroke-width="0.06">17</text>
<text x="270.25" y="504.89" font-size="6.4" fill="#000" text-anchor="middle" stroke="#000" stroke-width="0.06">11</text>
<text x="313.52" y="504.89" font-size="6.4" fill="#000" text-anchor="middle" stroke="#000" stroke-width="0.06">8</text>
<rect x="29.9" y="511.8" width="7.3" height="2" fill="#4FCFC7"/>
<text x="53.9" y="515.09" font-size="6.4" fill="#000" text-anchor="middle" stroke="#000" stroke-width="0.06">170</text>
<text x="97.17" y="515.09" font-size="6.4" fill="#000" text-anchor="middle" stroke="#000" stroke-width="0.06">88</text>
<text x="140.44" y="515.09" font-size="6.4" fill="#000" text-anchor="middle" stroke="#000" stroke-width="0.06">48</text>
<text x="183.71" y="515.09" font-size="6.4" fill="#000" text-anchor="middle" stroke="#000" stroke-width="0.06">32</text>
<text x="226.98" y="515.09" font-size="6.4" fill="#000" text-anchor="middle" stroke="#000" stroke-width="0.06">25</text>
<text x="270.25" y="515.09" font-size="6.4" fill="#000" text-anchor="middle" stroke="#000" stroke-width="0.06">19</text>
<text x="313.52" y="515.09" font-size="6.4" fill="#000" text-anchor="middle" stroke="#000" stroke-width="0.06">14</text>
<rect x="29.9" y="521.8" width="7.3" height="2" fill="#C47CFB"/>
<text x="53.9" y="525.09" font-size="6.4" fill="#000" text-anchor="middle" stroke="#000" stroke-width="0.06">205</text>
<text x="97.17" y="525.09" font-size="6.4" fill="#000" text-anchor="middle" stroke="#000" stroke-width="0.06">98</text>
<text x="140.44" y="525.09" font-size="6.4" fill="#000" text-anchor="middle" stroke="#000" stroke-width="0.06">52</text>
<text x="183.71" y="525.09" font-size="6.4" fill="#000" text-anchor="middle" stroke="#000" stroke-width="0.06">32</text>
<text x="226.98" y="525.09" font-size="6.4" fill="#000" text-anchor="middle" stroke="#000" stroke-width="0.06">21</text>
<text x="270.25" y="525.09" font-size="6.4" fill="#000" text-anchor="middle" stroke="#000" stroke-width="0.06">16</text>
<text x="313.52" y="525.09" font-size="6.4" fill="#000" text-anchor="middle" stroke="#000" stroke-width="0.06">9</text>
<path d="M397.8 277.2V449.6H673.4" fill="none" stroke="#222" stroke-width="1.1"/>
<text transform="translate(394.5 288.54) scale(0.9 1)" font-size="8.2" fill="#3a3a3a" text-anchor="end">1.00</text>
<text transform="translate(394.5 327.84) scale(0.9 1)" font-size="8.2" fill="#3a3a3a" text-anchor="end">0.75</text>
<text transform="translate(394.5 367.14) scale(0.9 1)" font-size="8.2" fill="#3a3a3a" text-anchor="end">0.50</text>
<text transform="translate(394.5 406.44) scale(0.9 1)" font-size="8.2" fill="#3a3a3a" text-anchor="end">0.25</text>
<text transform="translate(394.5 445.74) scale(0.9 1)" font-size="8.2" fill="#3a3a3a" text-anchor="end">0.00</text>
<text transform="translate(409.8 459.34) scale(0.9 1)" font-size="8.2" fill="#3a3a3a" text-anchor="middle">0</text>
<text transform="translate(451.72 459.34) scale(0.9 1)" font-size="8.2" fill="#3a3a3a" text-anchor="middle">6</text>
<text transform="translate(493.64 459.34) scale(0.9 1)" font-size="8.2" fill="#3a3a3a" text-anchor="middle">12</text>
<text transform="translate(535.56 459.34) scale(0.9 1)" font-size="8.2" fill="#3a3a3a" text-anchor="middle">18</text>
<text transform="translate(577.48 459.34) scale(0.9 1)" font-size="8.2" fill="#3a3a3a" text-anchor="middle">24</text>
<text transform="translate(619.4 459.34) scale(0.9 1)" font-size="8.2" fill="#3a3a3a" text-anchor="middle">30</text>
<text transform="translate(661.32 459.34) scale(0.9 1)" font-size="8.2" fill="#3a3a3a" text-anchor="middle">36</text>
<path d="M395.6 285.2H397.8M395.6 324.5H397.8M395.6 363.8H397.8M395.6 403.1H397.8M395.6 442.4H397.8M409.8 449.6V451.8M451.72 449.6V451.8M493.64 449.6V451.8M535.56 449.6V451.8M577.48 449.6V451.8M619.4 449.6V451.8M661.32 449.6V451.8" stroke="#333" stroke-width="1" fill="none"/>
<text x="535.5" y="469.16" font-size="7.95" fill="#000" text-anchor="middle">Time in months</text>
<text transform="translate(373.1 351.4) rotate(-90)" font-size="12.5" text-anchor="middle" fill="#000">Progression-free survival</text>
<text x="506.1" y="294.4" font-size="14.5" fill="#000" font-weight="bold">4th line</text>
<path d="M410.6 284.6H416.2H416.7V293.3H417.8V301.5H419.8V309.6H422.4V318.8H423.9V326H434.6H435.1V335.2H437.7H440.2V342.3H440.8V354.6H442.1V362.1H447.9V366.8H466.3V367.3H466.8V375.5H477.1V375.9H477.8V389.5H479.3V391.7H482.6V398.2H495.7V400H496.8V409.2H573.3H574V417.1H578.8V417.6H579.5V425.7H605.1V425.9H605.7V434H666.4H673V434.7V442.2" fill="none" stroke="#EE6E69" stroke-width="2.25" stroke-linejoin="miter" stroke-linecap="butt"/>
<path d="M459.64 364.82V369.42M476.99 373.6V378.2M483.25 395.99V400.59M509.85 406.9V411.5M517.04 406.9V411.5M518.11 406.9V411.5M526.08 406.9V411.5M536.47 406.9V411.5M545.9 406.9V411.5M605.4 427.6V432.2M613.94 431.7V436.3M618.79 431.7V436.3M663.25 431.7V436.3" stroke="#EE6E69" stroke-width="1" fill="none"/>
<path d="M410.6 285H410.97V287.23H412.2V290.2H414.05V294.24H414.14V297.87H415.2V300.4H415.54V303.95H416.25V307.83H416.62V310.73H418.3V313.7H419.59V316.59H420.71V319.23H421.21V322.83H422.15V325.78H422.4V329H424.42V332.33H425.15V334.44H425.24V337.87H426.5V341.3H427.74V344.18H429.2V347.13H429.5V351.5H430.88V354.46H430.95V357.12H432.6V359.7H435.1V362.2H437.7V365.8H439.7V369.9H442.8V374.5H447.9V375H448.9V379.1H454.1V382.9H456.48V386.35H456.68V388.75H457.4V391.7H469.4V392.1H471.6V395H478.2V399.3H487V400.4H489.2V407H490.2V418H508.9V419H510V421.9H522V422.3H524.2V425H543.8V428.1H572.2V428.5H605.1H642.3V431.8H666.4V432.9H673V434" fill="none" stroke="#78B11A" stroke-width="2.25" stroke-linejoin="miter" stroke-linecap="butt"/>
<path d="M467.69 389.74V394.34M493.54 415.88V420.48M529.45 423.53V428.13M552.42 425.92V430.52M582.32 426.2V430.8M608.09 426.47V431.07M608.3 426.48V431.08M669.47 431.11V435.71" stroke="#78B11A" stroke-width="1" fill="none"/>
<path d="M410.6 285H411.23V286.74H412.81V288.44H413.73V290.01H414.2V291.2H415.03V292.99H415.42V295.42H416.43V298.16H416.68V301.11H416.79V303.78H417.3V305.5H418.34V308.34H418.44V310.6H418.67V312.62H419.29V315.96H420.13V317.9H420.3V320.9H420.81V322.1H421.29V323.46H422.12V325.26H422.77V326.7H423.01V328.03H423.4V330H423.96V331.39H424.11V333.04H424.24V334.41H424.31V335.93H424.33V337.7H425.07V338.75H426.63V340.25H427.5V341.3H428.12V342.66H430.4V344.08V345.56H430.59V346.72H430.65V348.05H430.91V348.97H431.6V350.5H432.29V351.74H432.51V353.05H432.64V354.29H434.93V355.39H435.6V356.6H436.61V357.79H436.94V358.84H437.48V360.62H438.7V361.7H440.35V363.15H443.8V364.8H445.11V365.73H445.33V367.16H446.4V368.54H447.9V369.9H448.28V371.16H448.78V372.42H448.9V373.7H451V375H452.57V376.59H455.22V377.76H456.1V379.1H458.98V380.52H459.13V381.89H461.85V383.44H465.1V385.1H465.99V386.45H466.34V388.13H467.33V389.5H471.6V390.6H474.68V392.14H475.36V394.07H476.52V395.31H476.77V396.49H478.2V398.2H479.52V399.48H483.7V400.75H484.23V402.16H485.27V403.47H487V404.8H490.87V405.95H492.76V407.55H500.1V409.2H505.17V410.63H508.41V411.64H509.64V413.14H509.67V414.78H513.2V415.8H516.38V416.96H521.14V418.51H526.4V420.1H535V422H537.43V423.25H540.66V424.52H543.8V426.3H574.4V428.1H605.1V429H644.5V431.2H653.2V432.9H666.4V435.1H673V435.5" fill="none" stroke="#4FCFC7" stroke-width="2.25" stroke-linejoin="miter" stroke-linecap="butt"/>
<path d="M456.43 377.02V381.62M476.94 394.45V399.05M480.32 397.49V402.09M486.5 402.12V406.72M498.81 406.47V411.07M516.46 414.56V419.16M537.25 420.8V425.4M543.3 423.76V428.36M556.12 424.72V429.32M558.13 424.84V429.44M580.85 425.99V430.59M588.93 426.23V430.83M600.19 426.56V431.16M627.18 427.93V432.53M634.34 428.33V432.93M652.62 430.49V435.09M653.71 430.68V435.28M654.9 430.88V435.48M665.18 432.6V437.2" stroke="#4FCFC7" stroke-width="1" fill="none"/>
<path d="M410.6 284.6H411.82V285.64H412.52V286.72H413.49V288.1H414.2V289.2H414.79V291.74H415.49V293.96H415.96V296.49H416.2V298.4H416.77V300.93H416.95V302.75H417.74V304.34H417.89V306.89H418.76V308.42H419.3V310.6H419.63V312.61H420.3V315.79H420.75V318.52H420.8V321.91H421.6V323.94H422.4V326H423.63V327.45H423.94V328.46H424.03V329.49H424.11V330.8H424.62V331.88H425.84V333.13H426.5V334.1H427.98V335.44H428.02V336.67H428.6V337.94H428.67V338.84H429.91V339.91H430.5V341.3H433.06V342.86H433.17V344.47H433.59V345.4H434.27V346.42H434.6V347.4H435.34V348.63H436.04V349.92H436.24V351.05H436.59V352.26H437.7V353.5H438.54V354.73H439.08V355.89H439.21V357.41H440.8V358.7H441.04V359.82H442V361.31H442.8V362.2H444.17V363.57H444.88V364.97H445.31V366.56H447.9V367.8H448.76V369.45H449.23V370.53H449.5V371.79H450.96V372.74H452V374H452.68V375.1H454.89V376.51H457.1V378.1H457.53V379.5H460.7V380.7H461.95V382.26H463.16V383.44H464.31V384.62H468.85V385.99H469.4V387.3H471.92V389.04H474.06V390.51H478.2V391.7H479.26V393.02H479.86V394.9H485.16V396.35H487V398.2H489.34V399.81H497.9V401.5H509.25V402.89H513.2V404.8H515.45V406H519.76V407.57H520.84V409.69H522V411.4H529.98V412.62H535V413.9H543.8V415.4H565.7V416.5H573.3V418.7H578.8V420.9H585.73V422.55H587.6V423.7H608.4V425.2H634.6V427.4H646.7V430.3H673V430.7" fill="none" stroke="#C47CFB" stroke-width="2.25" stroke-linejoin="miter" stroke-linecap="butt"/>
<path d="M469.2 384.85V389.45M477.38 388.99V393.59M478.66 389.74V394.34M480.97 391.44V396.04M485.44 394.75V399.35M493.41 397.84V402.44M495.66 398.52V403.12M500.59 399.78V404.38M508.58 401.5V406.1M513.03 402.46V407.06M517.53 405.74V410.34M524.99 409.68V414.28M569.9 415.41V420.01M570.62 415.62V420.22M575.08 417.11V421.71M578.86 418.62V423.22M585.44 420.71V425.31M585.96 420.88V425.48M595.37 421.96V426.56M600.98 422.36V426.96M609.65 423.01V427.61M613.82 423.36V427.96M615.87 423.53V428.13M622.98 424.12V428.72M633.81 425.03V429.63" stroke="#C47CFB" stroke-width="1" fill="none"/>
<rect x="609.3" y="301.7" width="17.5" height="4.8" fill="#EE6E69"/>
<rect x="617.15" y="299.1" width="1.8" height="10" fill="#EE6E69"/>
<text x="630.3" y="307.79" font-size="10.3" fill="#111">1980-89</text>
<rect x="609.3" y="314.6" width="17.5" height="4" fill="#78B11A"/>
<rect x="617.15" y="311.6" width="1.8" height="10" fill="#78B11A"/>
<text x="630.3" y="320.29" font-size="10.3" fill="#111">1990-99</text>
<rect x="609.3" y="327.2" width="17.5" height="4" fill="#4FCFC7"/>
<rect x="617.15" y="324.2" width="1.8" height="10" fill="#4FCFC7"/>
<text x="630.3" y="332.89" font-size="10.3" fill="#111">2000-09</text>
<rect x="609.3" y="339.7" width="17.5" height="4" fill="#C47CFB"/>
<rect x="617.15" y="336.7" width="1.8" height="10" fill="#C47CFB"/>
<text x="630.3" y="345.39" font-size="10.3" fill="#111">2010-20</text>
<text x="443.4" y="413.81" font-size="7.85" fill="#000">p = 0.73</text>
<circle cx="435.1" cy="362.2" r="3.6" fill="#5E9A35"/>
<circle cx="439.2" cy="362.2" r="3.6" fill="#479FD0"/>
<circle cx="442.8" cy="362.2" r="3.6" fill="#6A2C9E"/>
<circle cx="447.9" cy="362.2" r="3.6" fill="#FF0A0A"/>
<text x="450.7" y="358.38" font-size="11.4" fill="#F01D1D" font-weight="bold">5.0</text>
<text x="419.5" y="371.08" font-size="11.4" fill="#69A838" font-weight="bold">3.5</text>
<text x="430" y="380.28" font-size="11.4" fill="#4DB5EC" font-weight="bold">4.9</text>
<text x="453.7" y="366.48" font-size="11.4" fill="#6E2FA0" font-weight="bold">4.9</text>
<text x="390.7" y="482.23" font-size="6.75" fill="#000">Number at risk</text>
<path d="M390.8 486.5V528.2H673.4" fill="none" stroke="#111" stroke-width="1"/>
<rect x="380.1" y="492.3" width="7" height="2" fill="#EE6E69"/>
<text x="404.5" y="495.59" font-size="6.4" fill="#000" text-anchor="middle" stroke="#000" stroke-width="0.06">19</text>
<text x="447.17" y="495.59" font-size="6.4" fill="#000" text-anchor="middle" stroke="#000" stroke-width="0.06">9</text>
<text x="489.84" y="495.59" font-size="6.4" fill="#000" text-anchor="middle" stroke="#000" stroke-width="0.06">5</text>
<text x="532.51" y="495.59" font-size="6.4" fill="#000" text-anchor="middle" stroke="#000" stroke-width="0.06">4</text>
<text x="575.18" y="495.59" font-size="6.4" fill="#000" text-anchor="middle" stroke="#000" stroke-width="0.06">3</text>
<text x="617.85" y="495.59" font-size="6.4" fill="#000" text-anchor="middle" stroke="#000" stroke-width="0.06">1</text>
<text x="660.52" y="495.59" font-size="6.4" fill="#000" text-anchor="middle" stroke="#000" stroke-width="0.06">1</text>
<rect x="380.1" y="502.2" width="7" height="2" fill="#78B11A"/>
<text x="404.5" y="505.49" font-size="6.4" fill="#000" text-anchor="middle" stroke="#000" stroke-width="0.06">47</text>
<text x="447.17" y="505.49" font-size="6.4" fill="#000" text-anchor="middle" stroke="#000" stroke-width="0.06">18</text>
<text x="489.84" y="505.49" font-size="6.4" fill="#000" text-anchor="middle" stroke="#000" stroke-width="0.06">7</text>
<text x="532.51" y="505.49" font-size="6.4" fill="#000" text-anchor="middle" stroke="#000" stroke-width="0.06">5</text>
<text x="575.18" y="505.49" font-size="6.4" fill="#000" text-anchor="middle" stroke="#000" stroke-width="0.06">4</text>
<text x="617.85" y="505.49" font-size="6.4" fill="#000" text-anchor="middle" stroke="#000" stroke-width="0.06">4</text>
<text x="660.52" y="505.49" font-size="6.4" fill="#000" text-anchor="middle" stroke="#000" stroke-width="0.06">3</text>
<rect x="380.1" y="512.2" width="7" height="2" fill="#4FCFC7"/>
<text x="404.5" y="515.49" font-size="6.4" fill="#000" text-anchor="middle" stroke="#000" stroke-width="0.06">116</text>
<text x="447.17" y="515.49" font-size="6.4" fill="#000" text-anchor="middle" stroke="#000" stroke-width="0.06">48</text>
<text x="489.84" y="515.49" font-size="6.4" fill="#000" text-anchor="middle" stroke="#000" stroke-width="0.06">25</text>
<text x="532.51" y="515.49" font-size="6.4" fill="#000" text-anchor="middle" stroke="#000" stroke-width="0.06">13</text>
<text x="575.18" y="515.49" font-size="6.4" fill="#000" text-anchor="middle" stroke="#000" stroke-width="0.06">8</text>
<text x="617.85" y="515.49" font-size="6.4" fill="#000" text-anchor="middle" stroke="#000" stroke-width="0.06">7</text>
<text x="660.52" y="515.49" font-size="6.4" fill="#000" text-anchor="middle" stroke="#000" stroke-width="0.06">5</text>
<rect x="380.1" y="522.2" width="7" height="2" fill="#C47CFB"/>
<text x="404.5" y="525.49" font-size="6.4" fill="#000" text-anchor="middle" stroke="#000" stroke-width="0.06">127</text>
<text x="447.17" y="525.49" font-size="6.4" fill="#000" text-anchor="middle" stroke="#000" stroke-width="0.06">50</text>
<text x="489.84" y="525.49" font-size="6.4" fill="#000" text-anchor="middle" stroke="#000" stroke-width="0.06">28</text>
<text x="532.51" y="525.49" font-size="6.4" fill="#000" text-anchor="middle" stroke="#000" stroke-width="0.06">18</text>
<text x="575.18" y="525.49" font-size="6.4" fill="#000" text-anchor="middle" stroke="#000" stroke-width="0.06">14</text>
<text x="617.85" y="525.49" font-size="6.4" fill="#000" text-anchor="middle" stroke="#000" stroke-width="0.06">8</text>
<text x="660.52" y="525.49" font-size="6.4" fill="#000" text-anchor="middle" stroke="#000" stroke-width="0.06">5</text>
<path d="M45.1 544.9V714.7H333.9" fill="none" stroke="#222" stroke-width="1.1"/>
<text transform="translate(41.8 555.94) scale(0.9 1)" font-size="8.2" fill="#3a3a3a" text-anchor="end">1.00</text>
<text transform="translate(41.8 594.66) scale(0.9 1)" font-size="8.2" fill="#3a3a3a" text-anchor="end">0.75</text>
<text transform="translate(41.8 633.39) scale(0.9 1)" font-size="8.2" fill="#3a3a3a" text-anchor="end">0.50</text>
<text transform="translate(41.8 672.11) scale(0.9 1)" font-size="8.2" fill="#3a3a3a" text-anchor="end">0.25</text>
<text transform="translate(41.8 710.84) scale(0.9 1)" font-size="8.2" fill="#3a3a3a" text-anchor="end">0.00</text>
<text transform="translate(57.8 724.44) scale(0.9 1)" font-size="8.2" fill="#3a3a3a" text-anchor="middle">0</text>
<text transform="translate(84.07 724.44) scale(0.9 1)" font-size="8.2" fill="#3a3a3a" text-anchor="middle">12</text>
<text transform="translate(110.34 724.44) scale(0.9 1)" font-size="8.2" fill="#3a3a3a" text-anchor="middle">24</text>
<text transform="translate(136.61 724.44) scale(0.9 1)" font-size="8.2" fill="#3a3a3a" text-anchor="middle">36</text>
<text transform="translate(162.88 724.44) scale(0.9 1)" font-size="8.2" fill="#3a3a3a" text-anchor="middle">48</text>
<text transform="translate(189.15 724.44) scale(0.9 1)" font-size="8.2" fill="#3a3a3a" text-anchor="middle">60</text>
<text transform="translate(215.42 724.44) scale(0.9 1)" font-size="8.2" fill="#3a3a3a" text-anchor="middle">72</text>
<text transform="translate(241.69 724.44) scale(0.9 1)" font-size="8.2" fill="#3a3a3a" text-anchor="middle">84</text>
<text transform="translate(267.96 724.44) scale(0.9 1)" font-size="8.2" fill="#3a3a3a" text-anchor="middle">96</text>
<text transform="translate(294.23 724.44) scale(0.9 1)" font-size="8.2" fill="#3a3a3a" text-anchor="middle">108</text>
<text transform="translate(320.5 724.44) scale(0.9 1)" font-size="8.2" fill="#3a3a3a" text-anchor="middle">120</text>
<path d="M42.9 552.6H45.1M42.9 591.33H45.1M42.9 630.05H45.1M42.9 668.77H45.1M42.9 707.5H45.1M57.8 714.7V716.9M84.07 714.7V716.9M110.34 714.7V716.9M136.61 714.7V716.9M162.88 714.7V716.9M189.15 714.7V716.9M215.42 714.7V716.9M241.69 714.7V716.9M267.96 714.7V716.9M294.23 714.7V716.9M320.5 714.7V716.9" stroke="#333" stroke-width="1" fill="none"/>
<text x="189.3" y="734.01" font-size="8.35" fill="#000" text-anchor="middle">Time in months</text>
<text transform="translate(21.8 617.3) rotate(-90)" font-size="12.5" text-anchor="middle" fill="#000">Overall survival</text>
<text x="159.7" y="560.8" font-size="14.5" fill="#000" font-weight="bold">1st line</text>
<path d="M58.6 553.1H59.1V557.2H60.1V561.3H61.1V566.4H61.37V567.28H61.53V568.34H61.74V569.31H63.2V570.5H63.98V571.13H64.34V572.05H64.85V572.71H65.2V573.5H65.59V574.27H66.74V574.9H67.3V575.6H68.3V578.6H70.68V579.41H70.98V580.04H73.4V580.7H73.83V581.61H74.45V582.48H75.55V583.1H76.15V583.75H76.5V584.8H77.43V585.83H78.87V586.6H79.5V587.8H80.59V588.43H80.73V589.09H81.98V589.93H82.6V590.9H83.6V595H85.06V596.21H85.72V597.2H86.7V598H87.33V598.76H88.91V599.61H89.72V600.39H90.37V601.24H90.8V602.1H91.8V605.2H93.18V606.03H93.6V607.04H93.88V608.07H94.1V608.66H94.48V609.42H94.8V610.3H95.27V610.94H96.37V611.74H96.82V612.66H97.73V613.51H97.9V614.4H100.04V615.47H101V616.4H101.76V617.23H102.39V617.82H103.67V618.51H104.1V619.4H105.45V620.46H106.97V621.09H107.93V622.02H110.31V623.01H110.7V623.8H111.22V624.78H111.71V625.44H114.15V626.15V627.37H114.86V628.31H115.1V629.3H116.3V630.1H116.77V631.23H119.92V632.29H120.44V633.35H121.02V634.1H123.8V634.8H125.78V635.91H127.09V636.69H129.19V637.57H129.35V638.34H129.39V639.05H129.61V640.19H134.8V641.3H139.39V642.35H140.4V643H141.36V643.95H142.51V644.91H144.39V645.96H145.7V646.8H148.53V647.91H148.81V648.72H148.85V649.44H149.79V650.55H150.65V651.65H154.5V652.3H159.22V653.19H160.84V654.04H161.84V655.01H166.86V655.77H167.6V656.7H170.07V657.93H178.6V658.9H181.6V659.93H182.69V660.84H183.65V661.62H184.24V662.8H184.29V663.98H184.6V664.72H185.1V665.4H189.16V666.5H190V667.6H192.36V668.59H192.43V669.61H193.83V670.56H195.1V671.31H196.6V672H209.69V672.87H211.12V673.66H211.9V674.2H216.99V675.18H220.27V675.93H221.72V676.69H222.8V677.4H225.27V678.12H230.07V678.85H233.06V679.85H233.8V680.7H240.17V681.7H242.6V682.9H243.6V687.3H255.7V688.4H266.6V689H270.55V689.58H272V690.48H272.72V691.42H274.36V692.01H275.4V692.8H288.5V693.9H299.5V695H312.6V696H333.4" fill="none" stroke="#EE6E69" stroke-width="2.25" stroke-linejoin="miter" stroke-linecap="butt"/>
<path d="M103.58 616.59V621.19M103.61 616.63V621.23M126.82 634.28V638.88M143.62 643.45V648.05M147.64 645.71V650.31M178.1 656.5V661.1M218.6 673.87V678.47M272.07 689.06V693.66M274.65 690.18V694.78M327.17 693.7V698.3" stroke="#EE6E69" stroke-width="1" fill="none"/>
<path d="M58.6 553.1H59.56V554.22H59.77V555.68H59.9V556.56H60.28V558.14H61.1V559.2H62.08V559.67H62.12V560.23H62.52V560.66H64.1V561.12H64.61V561.68H64.77V562.19H64.95V562.76H65.2V563.3H66V564.31H66.45V565.22H66.52V565.91H67.11V566.54H67.9V567.53H68.3V568.4H70.08V568.81H70.42V569.45H70.5V569.87H70.64V570.38H70.73V570.88H71.41V571.53H71.75V572H72.4V572.5H74.16V573.02H74.71V573.55H75.59V574.11H76.16V574.61H76.61V575.15H77.5V575.6H78.07V576H78.65V576.57H80.87V577.16H81.2V577.76H81.41V578.18H82.6V578.6H83.11V579.44H84.31V580.45H84.33V581.15H85.65V582.11H86.09V582.94H86.27V583.89H86.42V584.86H86.7V585.8H87.33V586.26H87.41V586.81H88.51V587.42H88.7V587.8H90.23V588.29H92.59V588.81H93.27V589.41H93.8V589.9H94.51V590.61H95.81V591.31H95.94V591.9H96.89V592.31H97.9V592.9H98.22V593.94H99.01V594.61H100.17V595.49H100.34V596.3V597.07H101V598H101.75V598.54H102.57V599.11H103.6V599.76H104.06V600.38H104.1V600.95H104.47V601.59H105V602.1H105.75V602.68H106.15V603.24H106.77V603.87H107.09V604.58H107.6V605.23H108.59V605.69H109.1V606.2H109.92V607.27H110.79V608.23H111.16V609.09H111.35V609.83H111.87V610.68H112.2V611.3H113.84V612.08H114.22V612.58H114.5V613.06H114.59V613.58H114.94V614.37H115.2V614.96H115.91V615.57H116.3V616.4H117.29V616.87H117.65V617.51H118.13V617.99H118.43V618.36H118.46V618.93H119.4V619.4H121.6V620.07H122.62V620.78H124.54V621.22H125.31V621.76H125.97V622.19H126.75V622.62H127V623.21H128.2V623.8H129.91V624.4H130.84V624.98H130.92V625.43H131.16V625.88H132.26V626.38H132.33V626.92H132.99V627.5H133.4V628.2H134.22V628.61H134.8V629.3H135.89V629.97H136.33V630.48H137.03V630.93H137.91V631.5H138.1V632.13H138.64V632.52H139.74V633.03H139.8V633.66H140.23V634.26H141.09V634.78H141.39V635.22H141.59V635.83H142V636.4H143.5V637H145.56V637.64H145.86V638.16V638.82H146.52V639.32H147.56V639.74H147.97V640.26H148.9V640.7H150.03V641.2H150.15V641.77H151.1V642.32H151.72V642.95H152.3V643.5H156.59V644H156.68V644.41H157.13V645.04H157.48V645.63H157.87V646.2H158.07V646.8H158.4V647.36H158.9V647.9H163.78V648.58H164.08V649.18H165.08V649.6H167.19V650.14H167.43V650.59H170.48V651.29H170.96V651.81H172V652.3H174.18V653.03H177.3V653.53H179.14V654.2H180.13V654.6H184.27V655.1H185.1V655.6H187.19V656.07H188.45V656.57H190V657.1H192.9V657.67H196.07V658.2H196.32V658.7H197.13V659.33H199.84V659.88H199.87V660.48H200.9V661H204.07V661.64H206.22V662.28H207.5V662.8H208.12V663.52H209.19V664.13H209.76V664.84H209.93V665.3H210.32V666.04H210.98V666.51H211.19V666.96H211.9V667.6H216.36V668.27H217.86V668.68H219.35V669.44H219.5V670.02H220.34V670.44H222.8V670.9H223.91V671.43H227.11V671.95H229.36V672.41H229.46V673.06H231.72V673.66H233.8V674.2H236.43V674.74H244.7V675.2H248.37V675.73H255.7V676.3H265.94V676.97H266.6V677.4H271.22V677.87H271.95V678.37H275.16V678.94H276.09V679.56H277.6V680.3H288.5V680.7H298.82V681.21H299.5V681.8H308.12V682.36H313.36V682.84V683.39H314.8V684H326.44V684.51H333.4V685.1" fill="none" stroke="#78B11A" stroke-width="2.25" stroke-linejoin="miter" stroke-linecap="butt"/>
<path d="M119.24 616.94V621.54M137.14 629.07V633.67M156.74 644.16V648.76M161.74 646.55V651.15M164.3 647.41V652.01M164.41 647.45V652.05M210.63 663.92V668.52M221.44 668.19V672.79M239.56 672.43V677.03M267.44 675.32V679.92M293.67 678.92V683.52M314.55 681.66V686.26M322.96 682.18V686.78M325.99 682.36V686.96M326.85 682.41V687.01M327.88 682.47V687.07M328.29 682.5V687.1" stroke="#78B11A" stroke-width="1" fill="none"/>
<path d="M58.6 552.8H60.73V553.42H61.32V553.9V554.27H61.51V554.94H62.2V555.5H63.27V555.96H64.54V556.37H64.7V556.77H65.03V557.38H65.23V557.92H65.68V558.53V558.95H65.78V559.55H66.23V560.13H67.3V560.5H70.52V560.89H70.75V561.38H71.91V561.91H72.4V562.5H73.4V563.02H74.27V563.44H74.92V563.94H75.51V564.55H76.14V565.08H76.38V565.54H77.2V566.01H77.5V566.6H78.18V567.14H79.15V567.59H79.99V568.14H81.15V568.69H81.43V569.24H82.6V569.7H84.24V570.17H84.25V570.71H85.83V571.22H86.6V571.6H86.85V572.22H87.7V572.7H88.24V573.33H88.68V573.89H91.01V574.4H92.01V574.82H92.03V575.22H92.8V575.8H93.37V576.28H93.69V576.84H94.04V577.29H94.06V577.73H96.09V578.18H97.9V578.8H98.97V579.2H99.54V579.61H100.36V580.11H100.62V580.63H101.32V581.13H102.59V581.7V582.26H102.62V582.73H102.72V583.23H103V583.8H103.79V584.34H104.06V584.7H104.7V585.33H105.49V585.69H107.01V586.28H108.1V586.8H109.63V587.3H110.04V587.81H110.69V588.47H113.2V588.9H113.83V589.32H114.51V589.95H114.59V590.36H114.67V590.77H114.85V591.46H115.13V591.92H117.76V592.36H118.3V592.9H118.87V593.34H118.96V593.96H119.02V594.32H120.29V594.86H120.95V595.23H120.99V595.78H121.23V596.38H122.63V596.97H122.94V597.52H123.4V598H124.24V598.68H124.37V599.34H125V600.1H127.17V600.48H127.58V600.96H128.01V601.51H128.2V601.9H129.68V602.42H130.9V602.9H132.96V603.41H133.81V603.84H133.95V604.34H134.24V604.76H134.53V605.41H134.92V606.08H136.2V606.53H136.92V607.04H137.5V607.45H137.81V607.87H139.2V608.5H140.59V609.06H142.49V609.75V610.28H143.49V610.87H143.58V611.32H147.25V611.91H149.49V612.46H150.1V612.9H152.14V613.31H153.79V614.02H154.69V614.72H155.51V615.2H157.83V615.83H159.48V616.38H159.9V616.83H161V617.3H162.88V617.88H163.07V618.39H164.15V618.93H164.59V619.43H165.71V619.9H166.12V620.44H166.26V620.92H169.64V621.46H170.37V622.1H170.45V622.7H170.89V623.34H172V623.8H176.62V624.35H176.98V624.79H177.82V625.43H178.56V626H180.03V626.44H180.91V627.02H180.95V627.42H181.06V627.95H181.54V628.48H181.8V628.88H183V629.3H185.23V629.85H187.81V630.25H188.46V630.71H188.83V631.29H188.93V631.93H190V632.5H191.17V633.05H191.24V633.53H192.92V633.9H193.89V634.29H194.22V634.84H194.6V635.37H195.53V635.92H195.97V636.52H196.02V636.97H196.59V637.58H196.97V638.19H197.43V638.61H197.56V639.04H198.64V639.6H200.9V640.2H203.35V640.56H204.56V640.91H204.76V641.54H208.04V642.05H208.4V642.5H210.66V642.94H211.9V643.5H219.81V644.1H220.24V644.63H221.66V645.14H222.8V645.7H224.37V646.23H225.62V646.81H227.8V647.2H229.31V647.84H232.44V648.51H232.73V649.1H232.79V649.52H233.8V650.1H238.42V650.75H240.15V651.12H240.88V651.74H241.27V652.34H241.44V653.03H241.87V653.46H242.7V653.86H244.7V654.4H248.41V654.99H255.7V655.5H260.77V656.13H263.84V656.73H264.39V657.21H266.6V657.7H268.79V658.18H271.01V658.75H277.6V659.3H280.32V659.93H282.05V660.47H282.24V661.07H282.81V661.74H288.81V662.19H289.89V662.8H290.7V663.2H296.24V663.73H299.5V664.3H309.55V664.79H312.6V665.4H314.23V666.03H316.65V666.5H321.4V667.1H329.74V667.57H333.4V668" fill="none" stroke="#4FCFC7" stroke-width="2.25" stroke-linejoin="miter" stroke-linecap="butt"/>
<path d="M100.18 578.73V583.33M107.79 584.32V588.92M124.63 597.31V601.91M131.27 601.44V606.04M142.54 607.55V612.15M152.54 611.59V616.19M168.73 619.57V624.17M177.44 624.22V628.82M183.53 627.24V631.84M184.88 627.86V632.46M186.3 628.51V633.11M186.33 628.52V633.12M186.69 628.69V633.29M195.79 634.29V638.89M196.11 634.52V639.12M197.7 635.64V640.24M198.31 636.07V640.67M207.85 639.98V644.58M211.58 641.1V645.7M220.98 643.03V647.63M224.58 644.11V648.71M233.9 647.84V652.44M236.89 649.02V653.62M244.61 652.06V656.66M254.32 653.06V657.66M256.57 653.38V657.98M266.75 655.42V660.02M269.02 655.75V660.35M271.05 656.05V660.65M273.39 656.39V660.99M277.34 656.96V661.56M280.83 657.96V662.56M285.58 659.38V663.98M289.85 660.65V665.25M305.62 662.51V667.11M316.11 663.78V668.38M316.58 663.87V668.47M324.05 665V669.6M325.18 665.08V669.68M327.6 665.26V669.86M329.42 665.4V670" stroke="#4FCFC7" stroke-width="1" fill="none"/>
<path d="M58.6 552.8H59.4V553.12H59.42V553.58H60.73V554.05H61.22V554.41H61.8V554.84H62.2V555.2H62.98V555.71H63.01V556.42H63.29V556.9H64.33V557.64H65.36V558.19H65.78V558.71H66.27V559.35H66.85V559.87H67.3V560.3H71.94V560.96H72.12V561.49H72.4V562.3H73.04V562.76H73.22V563.19H73.54V563.73H74.23V564.22H75.11V564.72H75.4V565.16H75.76V565.6H76.57V566.01H77.5V566.4H78.75V567H79.35V567.83H79.97V568.32H80.25V568.8H82.6V569.5H83.71V569.91H84.04V570.43H86.21V570.95H86.7V571.61H87.16V572.07H87.7V572.5H88.68V572.9H89.21V573.29H89.5V573.74H89.85V574.02H91.1V574.44H92.04V574.84H92.45V575.23H92.8V575.6H93.47V575.98H93.88V576.27H94.64V576.7H94.95V577.14H95.16V577.44H95.52V577.85H96.57V578.15H97.9V578.6H99.49V579.08H100.18V579.54H101.02V580.05H101.99V580.62H102.26V581.02H102.61V581.38H103V581.7H104.84V582.17H105.02V582.5H105.09V583.02H107.4V583.36H108.1V583.8H110.79V584.31H110.99V584.74H111.34V585.12H112.74V585.45H113.2V585.8H114.56V586.5H117.5V587.18H118.3V587.8H119.04V588.2H120.18V588.52H120.39V588.84H120.62V589.16H120.73V589.61H125V589.9H126.09V590.28H126.82V590.55H127.79V590.93H128.64V591.33H129.63V591.67H130.4V592.1H132.25V592.57H133.37V593H134.73V593.45H135.49V593.82H136.71V594.21H137.11V594.57H137.41V594.85H137.95V595.18H138.15V595.63H138.71V596.02H138.74V596.41H139.03V596.68H139.09V597.14H139.42V597.4H140.64V597.88H140.68V598.21H141.3V598.6H142.75V598.97H142.79V599.29H143.28V599.62H145.1V600.09H147.28V600.39H148.29V600.86H149.05V601.24H149.48V601.65H149.69V602.04H150.31V602.5H150.53V603H151.51V603.3H151.64V603.75H152.3V604.1H153.8V604.45H154V604.91H155.36V605.33H156.36V605.71H156.51V606.1H157.32V606.52H157.82V606.95H157.98V607.37H158.87V607.69H159.32V608.13H159.38V608.57H161V608.9H161.73V609.41H162.22V609.78H162.55V610.28H163.2V610.7H165.34V611.23H166.53V611.6H166.91V612.06H167.1V612.4H167.23V612.71H168.29V613.09H170.38V613.6H171.74V614.11H171.79V614.67H172.26V615.05H173.44V615.5H173.46V615.98H173.96V616.35H174.99V616.78H176.4V617.3H180.38V617.94H181.49V618.43H184.37V619.02H184.49V619.46H185.93V620.01H187.1V620.36H187.22V620.9H187.69V621.26H188.91V621.68H189.24V622.25H190V622.7H191.23V623.19H191.25V623.72H192.34V624.38H193.49V625.02H199.06V625.54H200.9V626H204.2V626.54H204.26V627.09H206.85V627.58H209.62V628.22H209.95V628.82H212.12V629.35H213V629.9H216.18V630.41H216.35V631.27H217.59V631.73H217.97V632.47H219.12V632.94H222.8V633.6H224.65V634.25H225.95V634.91H228.56V635.39H232.38V636.14H233.22V636.78H233.8V637.4H234.97V638.15H238.5V638.94H240.93V639.46H244.7V640.2H249.19V641.12H249.63V641.73H251.1V642.61H251.66V643.55H253.59V644.22H254.73V645.03H255.7V645.7H259.85V646.55H261.72V647.74H266.6V649H272.84V649.95H276.42V651.12H277.6V652.3H286.5V653.7H288.5V655.5H292.1V656.91H295.1V658.4H308.2V659.3H319.2V662.1H328V665.4H329.43V667.04H329.87V668.69H330.1V670.9H333.4V671.5" fill="none" stroke="#C47CFB" stroke-width="2.25" stroke-linejoin="miter" stroke-linecap="butt"/>
<path d="M101.95 578.76V583.36M105.72 580.52V585.12M108.15 581.52V586.12M108.48 581.65V586.25M108.68 581.73V586.33M108.83 581.79V586.39M108.9 581.82V586.42M112.44 583.2V587.8M113.09 583.46V588.06M117.06 585.01V589.61M118.23 585.47V590.07M119.43 585.85V590.45M122.79 586.91V591.51M123.59 587.16V591.76M130.5 589.86V594.46M133.38 591.58V596.18M134.28 592.11V596.71M136.34 593.34V597.94M137.13 593.81V598.41M138.62 594.7V599.3M139.6 595.28V599.88M139.63 595.3V599.9M140.63 595.9V600.5M145.34 598.32V602.92M151.37 601.33V605.93M152.26 601.78V606.38M159.66 606.26V610.86M159.92 606.41V611.01M160.12 606.54V611.14M162.2 607.8V612.4M164.92 609.26V613.86M165.01 609.31V613.91M165.55 609.58V614.18M166.53 610.07V614.67M170.79 612.2V616.8M174.8 614.2V618.8M185.12 618.46V623.06M189.4 620.16V624.76M190.59 620.58V625.18M191.09 620.73V625.33M193.94 621.59V626.19M194 621.61V626.21M194.59 621.79V626.39M196.37 622.33V626.93M196.57 622.39V626.99M198.91 623.1V627.7M199.97 623.42V628.02M200 623.43V628.03M203.57 624.56V629.16M204.15 624.75V629.35M206.36 625.46V630.06M207.91 625.96V630.56M209.96 626.62V631.22M210.04 626.65V631.25M210.89 626.92V631.52M211.71 627.18V631.78M211.94 627.26V631.86M213.21 627.68V632.28M214.3 628.09V632.69M214.89 628.31V632.91M216.06 628.76V633.36M218.32 629.61V634.21M220.73 630.52V635.12M222.37 631.14V635.74M223.86 631.67V636.27M225.84 632.35V636.95M226.26 632.49V637.09M227.91 633.06V637.66M228.43 633.25V637.85M228.54 633.28V637.88M230.94 634.11V638.71M235.16 635.45V640.05M238.47 636.3V640.9M243.16 637.5V642.1M243.18 637.51V642.11M243.89 637.69V642.29M245.03 638.06V642.66M245.82 638.46V643.06M247.97 639.54V644.14M250.35 640.72V645.32M250.59 640.85V645.45M252.45 641.78V646.38M253.92 642.51V647.11M255.37 643.24V647.84M256.95 643.78V648.38M261.59 645.18V649.78M262.11 645.34V649.94M262.63 645.5V650.1M268.05 647.13V651.73M271.89 648.29V652.89M274.09 648.95V653.55M275.51 649.37V653.97M275.61 649.4V654M275.86 649.48V654.08M279.12 650.45V655.05M282.61 651.47V656.07M290.36 654.02V658.62M293.63 655.45V660.05M294.6 655.88V660.48M295.17 656.11V660.71M301.47 656.54V661.14M302.88 656.63V661.23M307.72 656.97V661.57M309 657.2V661.8M309.91 657.43V662.03M311.01 657.71V662.31M312.26 658.03V662.63M313.46 658.34V662.94M313.78 658.42V663.02M320.36 660.24V664.84M322.95 661.21V665.81M326.64 662.59V667.19M326.9 662.69V667.29M329.82 667.88V672.48M332.12 668.97V673.57" stroke="#C47CFB" stroke-width="1" fill="none"/>
<rect x="269.3" y="563.1" width="17.5" height="4.8" fill="#EE6E69"/>
<rect x="277.15" y="560.5" width="1.8" height="10" fill="#EE6E69"/>
<text x="289.7" y="569.19" font-size="10.3" fill="#111">1980-89</text>
<rect x="269.3" y="575.9" width="17.5" height="4" fill="#78B11A"/>
<rect x="277.15" y="572.9" width="1.8" height="10" fill="#78B11A"/>
<text x="289.7" y="581.59" font-size="10.3" fill="#111">1990-99</text>
<rect x="269.3" y="588.3" width="17.5" height="4" fill="#4FCFC7"/>
<rect x="277.15" y="585.3" width="1.8" height="10" fill="#4FCFC7"/>
<text x="289.7" y="593.99" font-size="10.3" fill="#111">2000-09</text>
<rect x="269.3" y="600.8" width="17.5" height="4" fill="#C47CFB"/>
<rect x="277.15" y="597.8" width="1.8" height="10" fill="#C47CFB"/>
<text x="289.7" y="606.49" font-size="10.3" fill="#111">2010-20</text>
<text x="76" y="679.9" font-size="8.1" fill="#000">p < 0.0001</text>
<circle cx="114" cy="629.3" r="3.6" fill="#FF0A0A"/>
<circle cx="134.8" cy="629.3" r="3.6" fill="#5E9A35"/>
<circle cx="182.5" cy="629.3" r="3.6" fill="#479FD0"/>
<circle cx="213" cy="629.9" r="3.6" fill="#6A2C9E"/>
<text x="95.1" y="643.48" font-size="11.4" fill="#F01D1D" font-weight="bold">26.5</text>
<text x="119.1" y="651.08" font-size="11.4" fill="#69A838" font-weight="bold">35.5</text>
<text x="164.7" y="643.48" font-size="11.4" fill="#4DB5EC" font-weight="bold">56.5</text>
<text x="217.1" y="628.68" font-size="11.4" fill="#6E2FA0" font-weight="bold">70.7</text>
<text x="38.4" y="746.73" font-size="6.75" fill="#000">Number at risk</text>
<path d="M38.2 751.4V791.8H333.4" fill="none" stroke="#111" stroke-width="1"/>
<rect x="26.5" y="756.7" width="7.5" height="2" fill="#EE6E69"/>
<text x="51.5" y="759.99" font-size="6.4" fill="#000" text-anchor="middle" stroke="#000" stroke-width="0.06">179</text>
<text x="78.43" y="759.99" font-size="6.4" fill="#000" text-anchor="middle" stroke="#000" stroke-width="0.06">130</text>
<text x="105.36" y="759.99" font-size="6.4" fill="#000" text-anchor="middle" stroke="#000" stroke-width="0.06">98</text>
<text x="132.29" y="759.99" font-size="6.4" fill="#000" text-anchor="middle" stroke="#000" stroke-width="0.06">73</text>
<text x="159.22" y="759.99" font-size="6.4" fill="#000" text-anchor="middle" stroke="#000" stroke-width="0.06">60</text>
<text x="186.15" y="759.99" font-size="6.4" fill="#000" text-anchor="middle" stroke="#000" stroke-width="0.06">45</text>
<text x="213.08" y="759.99" font-size="6.4" fill="#000" text-anchor="middle" stroke="#000" stroke-width="0.06">37</text>
<text x="240.01" y="759.99" font-size="6.4" fill="#000" text-anchor="middle" stroke="#000" stroke-width="0.06">25</text>
<text x="266.94" y="759.99" font-size="6.4" fill="#000" text-anchor="middle" stroke="#000" stroke-width="0.06">21</text>
<text x="293.87" y="759.99" font-size="6.4" fill="#000" text-anchor="middle" stroke="#000" stroke-width="0.06">15</text>
<text x="320.8" y="759.99" font-size="6.4" fill="#000" text-anchor="middle" stroke="#000" stroke-width="0.06">13</text>
<rect x="26.5" y="766.2" width="7.5" height="2" fill="#78B11A"/>
<text x="51.5" y="769.49" font-size="6.4" fill="#000" text-anchor="middle" stroke="#000" stroke-width="0.06">291</text>
<text x="78.43" y="769.49" font-size="6.4" fill="#000" text-anchor="middle" stroke="#000" stroke-width="0.06">238</text>
<text x="105.36" y="769.49" font-size="6.4" fill="#000" text-anchor="middle" stroke="#000" stroke-width="0.06">181</text>
<text x="132.29" y="769.49" font-size="6.4" fill="#000" text-anchor="middle" stroke="#000" stroke-width="0.06">144</text>
<text x="159.22" y="769.49" font-size="6.4" fill="#000" text-anchor="middle" stroke="#000" stroke-width="0.06">107</text>
<text x="186.15" y="769.49" font-size="6.4" fill="#000" text-anchor="middle" stroke="#000" stroke-width="0.06">93</text>
<text x="213.08" y="769.49" font-size="6.4" fill="#000" text-anchor="middle" stroke="#000" stroke-width="0.06">71</text>
<text x="240.01" y="769.49" font-size="6.4" fill="#000" text-anchor="middle" stroke="#000" stroke-width="0.06">60</text>
<text x="266.94" y="769.49" font-size="6.4" fill="#000" text-anchor="middle" stroke="#000" stroke-width="0.06">54</text>
<text x="293.87" y="769.49" font-size="6.4" fill="#000" text-anchor="middle" stroke="#000" stroke-width="0.06">48</text>
<text x="320.8" y="769.49" font-size="6.4" fill="#000" text-anchor="middle" stroke="#000" stroke-width="0.06">42</text>
<rect x="26.5" y="776.1" width="7.5" height="2" fill="#4FCFC7"/>
<text x="51.5" y="779.39" font-size="6.4" fill="#000" text-anchor="middle" stroke="#000" stroke-width="0.06">306</text>
<text x="78.43" y="779.39" font-size="6.4" fill="#000" text-anchor="middle" stroke="#000" stroke-width="0.06">272</text>
<text x="105.36" y="779.39" font-size="6.4" fill="#000" text-anchor="middle" stroke="#000" stroke-width="0.06">235</text>
<text x="132.29" y="779.39" font-size="6.4" fill="#000" text-anchor="middle" stroke="#000" stroke-width="0.06">193</text>
<text x="159.22" y="779.39" font-size="6.4" fill="#000" text-anchor="middle" stroke="#000" stroke-width="0.06">168</text>
<text x="186.15" y="779.39" font-size="6.4" fill="#000" text-anchor="middle" stroke="#000" stroke-width="0.06">146</text>
<text x="213.08" y="779.39" font-size="6.4" fill="#000" text-anchor="middle" stroke="#000" stroke-width="0.06">123</text>
<text x="240.01" y="779.39" font-size="6.4" fill="#000" text-anchor="middle" stroke="#000" stroke-width="0.06">105</text>
<text x="266.94" y="779.39" font-size="6.4" fill="#000" text-anchor="middle" stroke="#000" stroke-width="0.06">95</text>
<text x="293.87" y="779.39" font-size="6.4" fill="#000" text-anchor="middle" stroke="#000" stroke-width="0.06">81</text>
<text x="320.8" y="779.39" font-size="6.4" fill="#000" text-anchor="middle" stroke="#000" stroke-width="0.06">76</text>
<rect x="26.5" y="785.6" width="7.5" height="2" fill="#C47CFB"/>
<text x="51.5" y="788.89" font-size="6.4" fill="#000" text-anchor="middle" stroke="#000" stroke-width="0.06">520</text>
<text x="78.43" y="788.89" font-size="6.4" fill="#000" text-anchor="middle" stroke="#000" stroke-width="0.06">445</text>
<text x="105.36" y="788.89" font-size="6.4" fill="#000" text-anchor="middle" stroke="#000" stroke-width="0.06">368</text>
<text x="132.29" y="788.89" font-size="6.4" fill="#000" text-anchor="middle" stroke="#000" stroke-width="0.06">295</text>
<text x="159.22" y="788.89" font-size="6.4" fill="#000" text-anchor="middle" stroke="#000" stroke-width="0.06">224</text>
<text x="186.15" y="788.89" font-size="6.4" fill="#000" text-anchor="middle" stroke="#000" stroke-width="0.06">174</text>
<text x="213.08" y="788.89" font-size="6.4" fill="#000" text-anchor="middle" stroke="#000" stroke-width="0.06">125</text>
<text x="240.01" y="788.89" font-size="6.4" fill="#000" text-anchor="middle" stroke="#000" stroke-width="0.06">91</text>
<text x="266.94" y="788.89" font-size="6.4" fill="#000" text-anchor="middle" stroke="#000" stroke-width="0.06">54</text>
<text x="293.87" y="788.89" font-size="6.4" fill="#000" text-anchor="middle" stroke="#000" stroke-width="0.06">29</text>
<text x="320.8" y="788.89" font-size="6.4" fill="#000" text-anchor="middle" stroke="#000" stroke-width="0.06">18</text>
<path d="M398.9 551.2V716.4H680.8" fill="none" stroke="#222" stroke-width="1.1"/>
<text transform="translate(395.6 561.74) scale(0.9 1)" font-size="8.2" fill="#3a3a3a" text-anchor="end">1.00</text>
<text transform="translate(395.6 599.44) scale(0.9 1)" font-size="8.2" fill="#3a3a3a" text-anchor="end">0.75</text>
<text transform="translate(395.6 637.14) scale(0.9 1)" font-size="8.2" fill="#3a3a3a" text-anchor="end">0.50</text>
<text transform="translate(395.6 674.84) scale(0.9 1)" font-size="8.2" fill="#3a3a3a" text-anchor="end">0.25</text>
<text transform="translate(395.6 712.54) scale(0.9 1)" font-size="8.2" fill="#3a3a3a" text-anchor="end">0.00</text>
<text transform="translate(411.3 725.94) scale(0.9 1)" font-size="8.2" fill="#3a3a3a" text-anchor="middle">0</text>
<text transform="translate(437.01 725.94) scale(0.9 1)" font-size="8.2" fill="#3a3a3a" text-anchor="middle">12</text>
<text transform="translate(462.72 725.94) scale(0.9 1)" font-size="8.2" fill="#3a3a3a" text-anchor="middle">24</text>
<text transform="translate(488.43 725.94) scale(0.9 1)" font-size="8.2" fill="#3a3a3a" text-anchor="middle">36</text>
<text transform="translate(514.14 725.94) scale(0.9 1)" font-size="8.2" fill="#3a3a3a" text-anchor="middle">48</text>
<text transform="translate(539.85 725.94) scale(0.9 1)" font-size="8.2" fill="#3a3a3a" text-anchor="middle">60</text>
<text transform="translate(565.56 725.94) scale(0.9 1)" font-size="8.2" fill="#3a3a3a" text-anchor="middle">72</text>
<text transform="translate(591.27 725.94) scale(0.9 1)" font-size="8.2" fill="#3a3a3a" text-anchor="middle">84</text>
<text transform="translate(616.98 725.94) scale(0.9 1)" font-size="8.2" fill="#3a3a3a" text-anchor="middle">96</text>
<text transform="translate(642.69 725.94) scale(0.9 1)" font-size="8.2" fill="#3a3a3a" text-anchor="middle">108</text>
<text transform="translate(668.4 725.94) scale(0.9 1)" font-size="8.2" fill="#3a3a3a" text-anchor="middle">120</text>
<path d="M396.7 558.4H398.9M396.7 596.1H398.9M396.7 633.8H398.9M396.7 671.5H398.9M396.7 709.2H398.9M411.3 716.4V718.6M437.01 716.4V718.6M462.72 716.4V718.6M488.43 716.4V718.6M514.14 716.4V718.6M539.85 716.4V718.6M565.56 716.4V718.6M591.27 716.4V718.6M616.98 716.4V718.6M642.69 716.4V718.6M668.4 716.4V718.6" stroke="#333" stroke-width="1" fill="none"/>
<text x="539.6" y="735.65" font-size="8.2" fill="#000" text-anchor="middle">Time in months</text>
<text transform="translate(375.3 619.2) rotate(-90)" font-size="12.5" text-anchor="middle" fill="#000">Overall survival</text>
<text x="500.5" y="563.6" font-size="14.5" fill="#000" font-weight="bold">2nd line</text>
<path d="M412.1 559.1H412.6V565.2H414.1V572.4H414.92V574.73H415.08V576.94H416.09V578.79H416.2V581.6H416.47V584.21H417.37V586.97H417.4V589.04H418.2V591.8H419.2V600H420.36V602.33H420.74V604.47H420.75V606.17H421.3V608.1H421.79V609.48H422.5V611.42H422.94V613.31H423.38V614.81H423.89V616.02H424.3V617.3H424.93V618.76H425.86V619.73H427.13V621.11H427.4V622.4H429.12V623.55H430.08V624.92H430.12V625.96H430.56V627.03H431.5V628.5H432.2V629.84H433.81V631.06H434V632.6H437.23V633.95H437.6V635.7H438.42V637.05H438.5V638.33H440.7V639.8H441.4V641.29H441.84V642.66H442.86V644.46H443.8V645.9H445.28V647.39H445.71V648.24H445.86V649.73H446.24V650.59H446.8V652H447.5V655.7H454.1H459.06V657.45H459.8V659.06H460.7V660.1H464.13V661.94H467.3V663.4H473.14V664.8H476V666.7H480.72V668.2H484.32V669.74H487V671H495.86V672.86H497.9V674.3H503.52V676.01H513.2V677.6H514.91V679.3H515.4V680.9H522V682H523.5V683.04H524.2V684.2H550.3V685.2H551.45V686.48H554.7V688.1H559.54V689.47H565.7V690.7H581V692.9H585.5V694.36H585.62V696.3H585.91V698.11H586.5V699.5H609.4V701.7H633.5V703.4H675.1V703.9H676.9V705.05H677.3V706H680.6" fill="none" stroke="#EE6E69" stroke-width="2.25" stroke-linejoin="miter" stroke-linecap="butt"/>
<path d="M494.87 671.08V675.68M494.97 671.11V675.71M512.69 675.19V679.79M561.64 687.44V692.04M564.31 688.07V692.67M573.72 689.55V694.15M600.71 698.57V703.17M606.5 699.12V703.72M610.79 699.5V704.1M634.07 701.11V705.71M641.61 701.2V705.8M649.11 701.29V705.89M675.91 702.38V706.98" stroke="#EE6E69" stroke-width="1" fill="none"/>
<path d="M412.1 559.1H412.49V560.33H413.56V561.34H413.99V562.27H414.25V563.16H414.49V564.37H415.2V565.2H416.34V566.36H417.53V567.86H417.71V568.73H417.76V570.1H417.93V571.13H418.2V572.4H418.85V574.71H419.67V577.98H419.8V580.46H420.3V582.6H421.24V583.36H421.48V583.99H422.97V584.65H423.3V585.6H424.64V586.82H424.88V588.47H425.02V589.98H425.26V591.39H425.47V592.58H426.4V593.8H426.95V594.56H427.59V595.51H428.16V596.24H428.73V597.27H429.19V598.06H429.37V599H429.45V599.89H430.5V601H431.08V602.17H431.18V603.11H431.33V603.99H432.45V604.98H432.62V606.09H433.01V606.99H433.96V608.21H434.6V609.1H435.45V609.76H435.62V610.79H435.79V611.73H437.18V612.53H437.98V613.55H438.6V614.2H438.91V615.48H439.01V616.51H439.7V617.58H440.65V618.44H440.86V619.54H441.7V620.4H442.47V621.2H443.04V622H443.06V622.86H443.07V623.99H443.14V624.68H444.8V625.5H445.17V626.52H446.85V627.5H447.28V628.5H447.55V629.68H447.6V630.7H447.73V631.57H448.3V632.6H449.6V633.38H450.41V634.18H451.45V635.02H451.9V635.7H454.15V636.4H455.27V637.15H457V637.7H460.78V638.53H461.59V639.21H463.2V639.8H465.06V640.66H465.48V641.36H465.79V642.06H467.2V642.8H467.65V643.64H469.05V644.59H469.48V645.41H470.62V646.19H470.67V646.99H470.96V647.73H471.08V648.38H471.3V649H472.79V650H473.19V650.8V651.4H474.95V652.34H475.4V653.1H476.87V654.03H478.68V654.66H480.4V655.7H481.44V656.56H482.31V657.5H483.52V658.21H486.94V659.27H489.2V660.1H491.3V660.87H491.54V661.71H491.7V662.59H493.6V663.55H494.27V664.19H494.51V665.04H495.29V665.98H500.1V666.7H503.38V667.46H505.29V668.21H505.68V668.96H509.3V670.03H511V671H512.71V671.72H512.82V672.49H522V673.2H528.01V673.99V674.59H530.8V675.4H532.31V676.29H532.77V676.81H535V677.6H539.24V678.56H541.78V679.18H544.41V679.8H545.9V680.9H547.9V681.58H548.67V682.5H551.33V683.5H556.9V684.2H562.55V685.17H566.37V685.72H574.4V686.3H594.1V686.8H595.81V687.5H597.08V688.22H597.41V689.02H598.5V689.6H622.6V690.7H625.47V691.51H637.03V692.28H644.5V692.9H654V693.53H654.15V694.45H662V695.1H680.6V696.2" fill="none" stroke="#78B11A" stroke-width="2.25" stroke-linejoin="miter" stroke-linecap="butt"/>
<path d="M532.09 673.78V678.38M543.68 677.93V682.53M560.44 682.32V686.92M570.61 683.55V688.15M576.83 684.06V688.66M592.87 684.47V689.07M597.19 686.46V691.06M604.36 687.57V692.17M619.3 688.25V692.85M636.64 689.81V694.41M665.46 693V697.6M673.19 693.46V698.06" stroke="#78B11A" stroke-width="1" fill="none"/>
<path d="M412.1 559.1H412.72V559.74H413.17V560.51H413.84V561.28H413.85V562.23H414.5V562.97H414.65V563.92H415.49V564.64H416.2V565.2H417.33V565.78H417.35V566.36H417.45V567.12H417.88V567.64H418.07V568.37H419.13V569.21H420.48V570.12H420.57V571.03H420.72V571.73H421.3V572.4H422.25V573.38H423.01V574.15H423.16V575.06H423.3V576.31H424.4V577.52H424.61V578.44H424.98V579.62H425.4V580.5H426.03V581.24H426.25V581.87H426.53V582.52H426.76V583.3H428.41V584.09H430.5V584.6H431.1V585.24H431.68V585.91H432.52V586.74H432.8V587.44H433.2V587.95H433.7V588.79H434.23V589.49H434.58V590.32H435.6V590.8H436.65V591.38H436.69V591.94H437.01V592.48H437.11V593.24H438.87V593.94H438.99V594.61H439.18V595.32H439.24V596.16H440.16V596.97H440.7V597.9H441.77V598.68H441.78V599.47H441.85V600.45H442.34V601.42H443.55V602.43H444.31V603.48H444.51V604.29H444.8V605H445.21V605.61H445.76V606.07H445.78V606.65H446.7V607.29H448.9V608.1H449.45V609.08H449.64V609.77H449.95V610.64H450.88V611.46H451.59V612.56H451.9V613.2H453.84V614.15H454.1V614.99H454.47V615.76H454.49V616.66H454.52V617.36H455V618.3H456.48V618.86H457.1V619.75H457.14V620.41H457.2V620.96V621.55H459.1V622.4H460.02V623.08H460.52V623.72H461.4V624.16H462.7V624.8H463.2V625.5H464.38V626.32H465.55V627.14H465.87V627.72H467.2V628.5H467.87V629.42H467.97V630.44H468.34V631.18H469.37V632.01H469.8V632.6H472.74V633.45H473.12V634.03H474.4V634.7H476.51V635.22H477.68V635.87H478V636.7H482.95V637.21H485.32V637.69H485.38V638.28H485.47V638.79H485.94V639.66H487V640.4H489.32V640.93H490.76V641.69H493.44V642.27H493.66V643.1H493.76V643.71H493.99V644.36H495.36V645.03H496.29V645.8H496.9V646.3H497.9V647H499.49V647.57H501.38V648.1H501.42V648.88H501.56V649.47H502.05V650.22H502.38V651.06H504.35V651.72H505.67V652.28H505.94V652.84H506.7V653.5H507.84V654.43H509.65V655.2H510.26V655.98H514.15V656.56H515.78V657.16H517.6V657.9H518.96V658.53H519.21V659.41H519.74V660.1H526.94V660.9H529.22V661.42H530.8V662.3H532.18V663.11H534.52V663.89H535V664.4H542.21V665.27H543.17V665.77H545.9V666.6H550.31V667.28H550.65V668.13H551.55V669.05H553.7V669.56H555.87V670.49H556.9V671H563.11V671.55H566.15V672.45H570V673.2H571.08V673.77H571.76V674.52H574.4V675.4H580.43V676.11H588.99V676.82H596.3V677.6H599.82V678.51H603.05V679.15H603.1V679.78H604.36V680.58H606.5V681.35H609.4V682H617.54V682.78H620.44V683.59H622.6V684.2H648.9V684.6H657.6V685.7H680.6" fill="none" stroke="#4FCFC7" stroke-width="2.25" stroke-linejoin="miter" stroke-linecap="butt"/>
<path d="M458.95 619.95V624.55M468.28 627.9V632.5M470.41 630.58V635.18M484.08 636.9V641.5M494.92 642.89V647.49M512.82 653.67V658.27M515.44 654.73V659.33M526.02 658.41V663.01M531.7 660.45V665.05M534.45 661.82V666.42M549.37 665.69V670.29M562.08 669.57V674.17M569.58 670.83V675.43M570.69 671.24V675.84M574.27 673.03V677.63M585.45 674.21V678.81M604.6 678.09V682.69M605.02 678.23V682.83M628.26 681.99V686.59M647.22 682.27V686.87M650.91 682.55V687.15M654.75 683.04V687.64M662.41 683.4V688M668.07 683.4V688M670.55 683.4V688M673.08 683.4V688M674.09 683.4V688" stroke="#4FCFC7" stroke-width="1" fill="none"/>
<path d="M411.6 559.1H412.18V559.61H412.68V560.06H413.12V560.79H413.21V561.48H413.35V562.04H413.43V562.62H414.43V563.03H415.73V563.67H416.2V564.2H416.87V564.64H418.29V565.26H418.71V565.96H418.99V566.34H419.23V566.77H419.43V567.46H420.27V567.85H420.37V568.24H420.61V568.75H421.3V569.3H422.35V569.89H422.52V570.39H424.12V570.93H424.19V571.54H424.26V572.04H424.91V572.56H425.12V573.23H425.43V574.07H425.95V574.88H426.4V575.4H427V576.02H428.49V576.58H428.72V577.09H428.84V577.58H429.03V578.09H430.03V578.45H430.62V578.93H430.84V579.4H431V580.03H431.5V580.5H434.17V581.02H434.64V581.44H434.72V582.07H435.32V582.7H435.81V583.21H435.96V583.65H436.23V584.08H436.6V584.6H438.11V585.37H439.28V586.06H440.24V586.59H440.62V587.03H440.88V587.59H441.3V588.24H441.7V588.7H443.3V589.44H443.36V590.03H443.51V590.48H443.68V591.03H444.49V591.54H445.79V592.3H446.8V592.8H447.41V593.44H448.13V594.03H448.62V594.82H449.91V595.32H450.4V595.78H450.55V596.29H450.9V596.9H452.96V597.38H453.21V598.08H453.71V598.66H454.02V599.28H454.05V599.89H454.61V600.65H454.7V601.34H455V602H456.27V602.59H456.66V603.22H456.81V603.73H456.92V604.19H458.02V604.91H458.12V605.47H459.22V606.08H459.52V606.65H460.1V607.1H463.18V607.69H463.39V608.12H463.42V608.53H463.47V609.24H463.77V609.84H464.16V610.51H464.28V610.96H464.46V611.52H465.2V612.2H466.04V612.77H466.08V613.38H466.67V614.05H467.17V614.7H467.37V615.15H469.11V615.67H470.3V616.3H470.99V616.96H471.21V617.51H471.35V618.29H471.56V618.92H472.06V619.62H473.8V620.33H475.04V620.8H475.4V621.4H477.57V622.18H478.2V622.9H479.32V623.48H481.49V624.3H482.58V624.93H483.89V625.47H483.97V626.04H485.06V626.61V627.29H485.96V627.81H488.13V628.72H489.2V629.4H491.19V629.95H496.24V630.59H496.5V631.34H498.04V631.9H499V632.7H500.45V633.41H500.59V633.95H502.21V634.92H502.36V635.76H506.98V636.66H508.99V637.36H511V638.2H512.87V638.95H516.31V639.86H517.83V640.64H518.09V641.6H522V642.6H523.25V643.85H525.3V645.06H526.07V645.79H527.13V646.94V647.98H530.8V649.2H535V650.2H536.73V651.31H537.79V652.43H538.21V653.94H539.4V655.7H541.72V656.81H542.81V657.8H548.1V659H551.25V660.14H556.9V661.2H561.06V662.99H567.8V664.4H568.62V666.19H569.89V667.28H571.1V668.8H598.5V669.3H602.9V672.8H616V674.3H618.2V678.7H629.2V679.8V683.1H651V683.7H653.2V686.3H666.4V687.4V690.7H680.6" fill="none" stroke="#C47CFB" stroke-width="2.25" stroke-linejoin="miter" stroke-linecap="butt"/>
<path d="M463.01 607.71V612.31M467.46 611.72V616.32M469.65 613.48V618.08M472.29 615.99V620.59M479.2 621.19V625.79M481.1 622.32V626.92M486.15 625.3V629.9M486.54 625.53V630.13M487.19 625.91V630.51M489.35 627.15V631.75M492.72 628.29V632.89M494.55 628.9V633.5M494.57 628.91V633.51M498.73 630.31V634.91M499.91 630.82V635.42M503.82 632.61V637.21M504.5 632.92V637.52M508.21 634.62V639.22M510.34 635.6V640.2M521.53 640.11V644.71M521.87 640.25V644.85M527.66 644.55V649.15M527.8 644.65V649.25M528.4 645.1V649.7M528.85 645.43V650.03M530.38 646.58V651.18M534.32 647.74V652.34M535.91 649.04V653.64M538.81 652.66V657.26M539.3 653.28V657.88M550.47 657.29V661.89M554.26 658.24V662.84M556.48 658.8V663.4M557.32 659.02V663.62M557.4 659.05V663.65M557.88 659.19V663.79M559.77 659.74V664.34M560.55 659.97V664.57M561.38 660.22V664.82M566.6 661.75V666.35M568.44 662.95V667.55M569.05 663.77V668.37M569.36 664.19V668.79M573.19 666.54V671.14M573.92 666.55V671.15M580.14 666.66V671.26M585.48 666.76V671.36M589.6 666.84V671.44M592.03 666.88V671.48M592.43 666.89V671.49M593.45 666.91V671.51M596.15 666.96V671.56M602.22 669.96V674.56M608.02 671.09V675.69M609.11 671.21V675.81M620.27 676.61V681.21M622.68 676.85V681.45M627.29 677.31V681.91M630.05 680.82V685.42M636.16 680.99V685.59M647.5 681.3V685.9M648.7 681.34V685.94M652.51 683.18V687.78M653.44 684.02V688.62M658.89 684.47V689.07M668.05 688.4V693M676.19 688.4V693M678.19 688.4V693" stroke="#C47CFB" stroke-width="1" fill="none"/>
<rect x="608.7" y="565.3" width="17.2" height="4.8" fill="#EE6E69"/>
<rect x="616.4" y="562.7" width="1.8" height="10" fill="#EE6E69"/>
<text x="629.7" y="571.39" font-size="10.3" fill="#111">1980-89</text>
<rect x="608.7" y="578.2" width="17.2" height="4" fill="#78B11A"/>
<rect x="616.4" y="575.2" width="1.8" height="10" fill="#78B11A"/>
<text x="629.7" y="583.89" font-size="10.3" fill="#111">1990-99</text>
<rect x="608.7" y="590.8" width="17.2" height="4" fill="#4FCFC7"/>
<rect x="616.4" y="587.8" width="1.8" height="10" fill="#4FCFC7"/>
<text x="629.7" y="596.49" font-size="10.3" fill="#111">2000-09</text>
<rect x="608.7" y="603.4" width="17.2" height="4" fill="#C47CFB"/>
<rect x="616.4" y="600.4" width="1.8" height="10" fill="#C47CFB"/>
<text x="629.7" y="609.09" font-size="10.3" fill="#111">2010-20</text>
<text x="425.3" y="682.96" font-size="7.7" fill="#000">p < 0.0001</text>
<circle cx="434" cy="632.6" r="3.6" fill="#FF0A0A"/>
<circle cx="448.3" cy="632.6" r="3.6" fill="#5E9A35"/>
<circle cx="469.8" cy="632.6" r="3.6" fill="#479FD0"/>
<circle cx="499" cy="632.7" r="3.6" fill="#6A2C9E"/>
<text x="417.9" y="648.68" font-size="11.4" fill="#F01D1D" font-weight="bold">11.0</text>
<text x="445" y="649.88" font-size="11.4" fill="#69A838" font-weight="bold">19.1</text>
<text x="471.3" y="651.28" font-size="11.4" fill="#4DB5EC" font-weight="bold">28.9</text>
<text x="503.5" y="630.48" font-size="11.4" fill="#6E2FA0" font-weight="bold">42.6</text>
<text x="392.7" y="747.73" font-size="6.75" fill="#000">Number at risk</text>
<path d="M392.5 752V792H680.8" fill="none" stroke="#111" stroke-width="1"/>
<rect x="381.5" y="757.4" width="7.1" height="2" fill="#EE6E69"/>
<text x="405.2" y="760.69" font-size="6.4" fill="#000" text-anchor="middle" stroke="#000" stroke-width="0.06">107</text>
<text x="431.47" y="760.69" font-size="6.4" fill="#000" text-anchor="middle" stroke="#000" stroke-width="0.06">52</text>
<text x="457.74" y="760.69" font-size="6.4" fill="#000" text-anchor="middle" stroke="#000" stroke-width="0.06">34</text>
<text x="484.01" y="760.69" font-size="6.4" fill="#000" text-anchor="middle" stroke="#000" stroke-width="0.06">26</text>
<text x="510.28" y="760.69" font-size="6.4" fill="#000" text-anchor="middle" stroke="#000" stroke-width="0.06">22</text>
<text x="536.55" y="760.69" font-size="6.4" fill="#000" text-anchor="middle" stroke="#000" stroke-width="0.06">17</text>
<text x="562.82" y="760.69" font-size="6.4" fill="#000" text-anchor="middle" stroke="#000" stroke-width="0.06">13</text>
<text x="589.09" y="760.69" font-size="6.4" fill="#000" text-anchor="middle" stroke="#000" stroke-width="0.06">6</text>
<text x="615.36" y="760.69" font-size="6.4" fill="#000" text-anchor="middle" stroke="#000" stroke-width="0.06">5</text>
<text x="641.63" y="760.69" font-size="6.4" fill="#000" text-anchor="middle" stroke="#000" stroke-width="0.06">4</text>
<text x="667.9" y="760.69" font-size="6.4" fill="#000" text-anchor="middle" stroke="#000" stroke-width="0.06">4</text>
<rect x="381.5" y="767" width="7.1" height="2" fill="#78B11A"/>
<text x="405.2" y="770.29" font-size="6.4" fill="#000" text-anchor="middle" stroke="#000" stroke-width="0.06">189</text>
<text x="431.47" y="770.29" font-size="6.4" fill="#000" text-anchor="middle" stroke="#000" stroke-width="0.06">122</text>
<text x="457.74" y="770.29" font-size="6.4" fill="#000" text-anchor="middle" stroke="#000" stroke-width="0.06">86</text>
<text x="484.01" y="770.29" font-size="6.4" fill="#000" text-anchor="middle" stroke="#000" stroke-width="0.06">61</text>
<text x="510.28" y="770.29" font-size="6.4" fill="#000" text-anchor="middle" stroke="#000" stroke-width="0.06">46</text>
<text x="536.55" y="770.29" font-size="6.4" fill="#000" text-anchor="middle" stroke="#000" stroke-width="0.06">37</text>
<text x="562.82" y="770.29" font-size="6.4" fill="#000" text-anchor="middle" stroke="#000" stroke-width="0.06">29</text>
<text x="589.09" y="770.29" font-size="6.4" fill="#000" text-anchor="middle" stroke="#000" stroke-width="0.06">27</text>
<text x="615.36" y="770.29" font-size="6.4" fill="#000" text-anchor="middle" stroke="#000" stroke-width="0.06">24</text>
<text x="641.63" y="770.29" font-size="6.4" fill="#000" text-anchor="middle" stroke="#000" stroke-width="0.06">21</text>
<text x="667.9" y="770.29" font-size="6.4" fill="#000" text-anchor="middle" stroke="#000" stroke-width="0.06">17</text>
<rect x="381.5" y="776.5" width="7.1" height="2" fill="#4FCFC7"/>
<text x="405.2" y="779.79" font-size="6.4" fill="#000" text-anchor="middle" stroke="#000" stroke-width="0.06">233</text>
<text x="431.47" y="779.79" font-size="6.4" fill="#000" text-anchor="middle" stroke="#000" stroke-width="0.06">178</text>
<text x="457.74" y="779.79" font-size="6.4" fill="#000" text-anchor="middle" stroke="#000" stroke-width="0.06">124</text>
<text x="484.01" y="779.79" font-size="6.4" fill="#000" text-anchor="middle" stroke="#000" stroke-width="0.06">102</text>
<text x="510.28" y="779.79" font-size="6.4" fill="#000" text-anchor="middle" stroke="#000" stroke-width="0.06">76</text>
<text x="536.55" y="779.79" font-size="6.4" fill="#000" text-anchor="middle" stroke="#000" stroke-width="0.06">64</text>
<text x="562.82" y="779.79" font-size="6.4" fill="#000" text-anchor="middle" stroke="#000" stroke-width="0.06">53</text>
<text x="589.09" y="779.79" font-size="6.4" fill="#000" text-anchor="middle" stroke="#000" stroke-width="0.06">43</text>
<text x="615.36" y="779.79" font-size="6.4" fill="#000" text-anchor="middle" stroke="#000" stroke-width="0.06">32</text>
<text x="641.63" y="779.79" font-size="6.4" fill="#000" text-anchor="middle" stroke="#000" stroke-width="0.06">28</text>
<text x="667.9" y="779.79" font-size="6.4" fill="#000" text-anchor="middle" stroke="#000" stroke-width="0.06">25</text>
<rect x="381.5" y="786" width="7.1" height="2" fill="#C47CFB"/>
<text x="405.2" y="789.29" font-size="6.4" fill="#000" text-anchor="middle" stroke="#000" stroke-width="0.06">306</text>
<text x="431.47" y="789.29" font-size="6.4" fill="#000" text-anchor="middle" stroke="#000" stroke-width="0.06">228</text>
<text x="457.74" y="789.29" font-size="6.4" fill="#000" text-anchor="middle" stroke="#000" stroke-width="0.06">171</text>
<text x="484.01" y="789.29" font-size="6.4" fill="#000" text-anchor="middle" stroke="#000" stroke-width="0.06">119</text>
<text x="510.28" y="789.29" font-size="6.4" fill="#000" text-anchor="middle" stroke="#000" stroke-width="0.06">80</text>
<text x="536.55" y="789.29" font-size="6.4" fill="#000" text-anchor="middle" stroke="#000" stroke-width="0.06">43</text>
<text x="562.82" y="789.29" font-size="6.4" fill="#000" text-anchor="middle" stroke="#000" stroke-width="0.06">26</text>
<text x="589.09" y="789.29" font-size="6.4" fill="#000" text-anchor="middle" stroke="#000" stroke-width="0.06">19</text>
<text x="615.36" y="789.29" font-size="6.4" fill="#000" text-anchor="middle" stroke="#000" stroke-width="0.06">11</text>
<text x="641.63" y="789.29" font-size="6.4" fill="#000" text-anchor="middle" stroke="#000" stroke-width="0.06">7</text>
<text x="667.9" y="789.29" font-size="6.4" fill="#000" text-anchor="middle" stroke="#000" stroke-width="0.06">4</text>
<path d="M50.5 806.2V971.3H331.8" fill="none" stroke="#222" stroke-width="1.1"/>
<text transform="translate(47.2 816.74) scale(0.9 1)" font-size="8.2" fill="#3a3a3a" text-anchor="end">1.00</text>
<text transform="translate(47.2 854.44) scale(0.9 1)" font-size="8.2" fill="#3a3a3a" text-anchor="end">0.75</text>
<text transform="translate(47.2 892.14) scale(0.9 1)" font-size="8.2" fill="#3a3a3a" text-anchor="end">0.50</text>
<text transform="translate(47.2 929.84) scale(0.9 1)" font-size="8.2" fill="#3a3a3a" text-anchor="end">0.25</text>
<text transform="translate(47.2 967.54) scale(0.9 1)" font-size="8.2" fill="#3a3a3a" text-anchor="end">0.00</text>
<text transform="translate(62.8 980.84) scale(0.9 1)" font-size="8.2" fill="#3a3a3a" text-anchor="middle">0</text>
<text transform="translate(114.06 980.84) scale(0.9 1)" font-size="8.2" fill="#3a3a3a" text-anchor="middle">12</text>
<text transform="translate(165.32 980.84) scale(0.9 1)" font-size="8.2" fill="#3a3a3a" text-anchor="middle">24</text>
<text transform="translate(216.58 980.84) scale(0.9 1)" font-size="8.2" fill="#3a3a3a" text-anchor="middle">36</text>
<text transform="translate(267.84 980.84) scale(0.9 1)" font-size="8.2" fill="#3a3a3a" text-anchor="middle">48</text>
<text transform="translate(319.1 980.84) scale(0.9 1)" font-size="8.2" fill="#3a3a3a" text-anchor="middle">60</text>
<path d="M48.3 813.4H50.5M48.3 851.1H50.5M48.3 888.8H50.5M48.3 926.5H50.5M48.3 964.2H50.5M62.8 971.3V973.5M114.06 971.3V973.5M165.32 971.3V973.5M216.58 971.3V973.5M267.84 971.3V973.5M319.1 971.3V973.5" stroke="#333" stroke-width="1" fill="none"/>
<text x="191.1" y="990.23" font-size="8.15" fill="#000" text-anchor="middle">Time in months</text>
<text transform="translate(26.8 876.9) rotate(-90)" font-size="12.5" text-anchor="middle" fill="#000">Overall survival</text>
<text x="171" y="824.4" font-size="14.5" fill="#000" font-weight="bold">3rd line</text>
<path d="M63.4 813.6H65.39V816.8H66.1V820.2H67.76V822.33H69.2V825.3H70.2V830.4H72.08V834.15H72.3V837.6H72.8V842.7H78.4H78.9V849.8H81.5V850.9H82.5V854.9H83.5V859H90.6H91.7V861.1H93.7V865.2H94.7V871.3H96.3V874.65H96.8V877.4H100.9V878.4H101.6V887.7H111.5H112.6V895H125.7V895.4H127.9V898.7H148.7V901.5H153.1V906.3H155.67V909.62H157.5V912.9H159.7V915.1H185.9V916.2H187V917.7H214.1V918.3H215.2V922.3H222.8V924.4H225V927.7H251.3V928.4H252.4V934.3H262.3V935.4H263.4V940.9H331.9" fill="none" stroke="#EE6E69" stroke-width="2.25" stroke-linejoin="miter" stroke-linecap="butt"/>
<path d="M119.91 892.92V897.52M132.61 897.03V901.63M172.02 913.32V917.92M178.15 913.57V918.17M195.69 915.59V920.19M204.02 915.78V920.38M271.1 938.6V943.2M281.11 938.6V943.2M309.51 938.6V943.2M322.74 938.6V943.2M326.9 938.6V943.2" stroke="#EE6E69" stroke-width="1" fill="none"/>
<path d="M63.4 813.6H64V814.83H65.39V816.47H65.48V817.45H65.87V818.65H67.2V820.2H67.69V821.16H67.97V822.47H68.11V823.97H70.2V825.3H70.78V826.68H71.28V827.7H71.39V828.81H72.3V830.4H72.51V832.6H72.91V833.92H73.25V836.01H74.3V837.6H75.78V838.91H76.3V840.6H79.29V841.48H80.4V842.7H81.6V844.03H82.3V845.49H82.5V846.8H82.76V848.2H83.51V849.22H84.25V850.66H84.5V851.9H86.87V852.73H87.6V853.9H90.07V854.82H91.7V856H92.68V857.41H94.7V859H96.25V860.16H96.72V861.26H97.8V863.1H98.32V864.53H99.95V865.82H100.47V867.14H100.56V868.31H100.9V869.2H101.78V870.54H102.13V871.91H102.82V873.17H103.9V874.4H106.13V876.05H108V877.4H109.93V879.14H112.1V880.5H118.1V882.3H120.08V883.8V885.06H122.48V886.57H122.96V887.55H124.78V888.79H125.56V889.9H126.8V891H131.15V892.2H131.93V893.93H132.61V895.13H132.85V896.36H135.6V897.6H138.54V899.28H141.38V900.77H144.3V902H146.7V903.16H148.84V904.8H148.96V905.9H152.31V907.26H153.1V908.5H159.95V909.62H161.69V910.83H164V911.8H168.64V912.77H171.8V914.06H175V915.1H179.97V916.2H181.6V917.92H185.9V919.5H196.6V920.5H199.44V922.2H200.54V923.34H200.9V924.4H202.71V925.79H211.9V927.7H213.31V929.37H216.3V931H251.3H255.7V932.8H282V933.2H283.81V934.94H288.71V936.06H289.44V937.63H295.1V939.3H310.4V940.9H330.1V942H330.65V943.09H331.55V944.13H331.9V945.2" fill="none" stroke="#78B11A" stroke-width="2.25" stroke-linejoin="miter" stroke-linecap="butt"/>
<path d="M106.92 874.31V878.91M131.41 892.16V896.76M142.59 898.83V903.43M151.96 905.36V909.96M174.55 912.66V917.26M185.22 916.93V921.53M190.11 917.59V922.19M212.45 925.81V930.41M321.97 939.25V943.85M330.01 939.69V944.29" stroke="#78B11A" stroke-width="1" fill="none"/>
<path d="M63.4 813.6H64.7V814.42H64.73V815.4H65.92V816.5H67.21V817.4H68.2V818.2H70.41V819.41H73.3V820.2H73.95V821.18H74.13V822.08H76.75V823.38H77.4V824.3H79.5V825.37H79.86V826.5H80.4V827.4H81.62V828.65H83.12V829.54H84.5V830.4H85.23V831.65H85.42V832.98H86.01V833.74H87.6V834.5H88.17V835.54H88.39V836.56H89.24V837.39H90.31V838.52H90.6V839.6H92.21V840.46H92.31V841.71H93.17V842.61H93.33V843.76H93.7V844.7H94.1V845.56H95.77V846.75H95.8V847.8H95.84V848.95H96.07V850.21H96.8V850.9H97.33V852H97.42V852.77H99.74V853.69H100.9V854.9H102.42V856.24H102.61V857.24H104.65V858.09H105.34V858.94H106V860H106.44V860.88H106.54V862.1H107.72V862.87H108.9V863.67H109.18V864.37H109.53V865.09H109.62V866H110.1V867.2H110.86V867.93H111.42V868.91H112.65V869.99H113.77V870.63H115.2V871.3H117.56V872.67H118.17V873.45H119.2V874.4H120.32V875.4H120.51V876.64H125.03V877.48H125.4V878.4H127.56V879.15H128.67V880.48H129.53V881.39H131.2V882.3H133.57V883.15H134.93V884.09H137.79V884.85H141.12V885.84H142.2V886.6H149.42V887.49H149.66V888.11H150.2V888.96H150.9V889.9H153.24V890.72H157.59V891.52H158.62V892.78H159.08V893.72H159.8V894.75H160.4V895.58H160.67V896.54H161.9V897.6H166.42V898.64H168.57V899.56H168.9V900.28H169.39V901.1H170.6V902H179.03V903.25H183.8V904.2H184.68V905.28H187.86V906.14H188.33V906.99H188.7V907.7H190V908.7H194.06V909.38H195V910.49H198.8V911.3H201.64V911.9H201.75V912.71H202.76V913.7H203.1V914.6H205.14V915.53H211.9V916.8H221.35V917.37H222.8V918.3H231.15V919.13H233.11V920.07H233.8V921.2H238.25V922.2H238.54V923.57H242.6V924.4H252.53V925.5H253.5V926.6H262.39V927.6H264.59V928.84H265.77V929.73H271V930.6H299.5V931H302.16V932.08H310.4V933.2H314.77V934.37H321.4V935.4H328.8V936.19H331.9V937.1" fill="none" stroke="#4FCFC7" stroke-width="2.25" stroke-linejoin="miter" stroke-linecap="butt"/>
<path d="M106.42 858.43V863.03M113.21 867.4V872M115.17 868.98V873.58M118.12 871.26V875.86M119.38 872.22V876.82M124.24 875.35V879.95M128.31 878.06V882.66M129.52 878.87V883.47M157.6 892.29V896.89M158.7 893.06V897.66M166.22 897.48V902.08M169.04 898.91V903.51M172.23 899.97V904.57M183.07 901.78V906.38M184.23 902.22V906.82M198.4 908.88V913.48M207.12 913.31V917.91M215.61 915.01V919.61M220.06 915.62V920.22M228.89 917.61V922.21M248.73 923.34V927.94M249.49 923.49V928.09M258.25 925.39V929.99M263.37 926.56V931.16M266.13 927.19V931.79M277.14 928.39V932.99M284.99 928.5V933.1M292.46 928.6V933.2" stroke="#4FCFC7" stroke-width="1" fill="none"/>
<path d="M63.4 813.6H66.28V814.17H67.2V815.1H68.15V815.78H68.59V816.64H68.88V817.19H70.21V817.98H70.26V818.87H70.55V819.45H71.2V820.2H72.43V821.17H72.79V821.88H73.15V822.47H73.31V823.44H73.38V824.25H74.41V824.82H74.77V825.67H75.3V826.3H76.45V827.13H76.71V827.75H78.57V828.74H78.88V829.76H80.4V830.4H81.12V831.18H81.15V831.9H82.49V832.92H82.62V833.57H84.5V834.5H85.27V835.37H86.06V836.09H86.08V836.88H87.07V837.47H87.26V838.24H87.8V838.95H88.6V839.6H91.13V840.39H91.52V841.23H92.9V842.34H93.21V843.05H93.7V843.7H94.84V844.49H95.43V845.12H96V846.05H97.8V846.8H98.23V847.59H100.62V848.44H101.39V848.99H101.9V849.8H102.61V850.71H103.41V851.55H103.63V852.38H107.07V853.22H108V853.9H109.6V854.65H110.52V855.42H111.24V856.16H113.1V857H116.2V857.94H117.43V858.59H117.72V859.57H118.43V860.44H119.2V861.1H119.84V862.03H121.23V862.71H123.59V863.59H123.72V864.17H124.4V865.2H125.17V866.08H125.59V867.15H125.66V867.9H127.77V868.62H128.47V869.35H130V870.3H130.6V871.13H134.04V872H135.26V872.66H135.6V873.5H144.3V874.6H145.77V875.69H148.87V876.9H153.1V877.9H156.05V878.97H156.29V879.96H156.36V880.93H158.38V882.39H161.9V883.4H162.8V884.61H162.93V885.61H163.08V886.65V887.59H170.6V888.8H171.63V890.02H173.56V890.94H179.4V892.1H181.33V893.09H181.96V894.25H183.92V895.55H185.44V896.48H188.1V897.6H190V898.6H196.56V899.8H203.1V900.8H205.13V901.82H214.1V902.6H220.7V903.66H221.87V904.81H222.8V905.8H226.58V907.26H233.8V908.7H244.7V910.2H245.94V911.41H255.7V912.4H266.6V913.9H277.6V915.3H295.1V916.8H307.64V918.2H312.6V920.1H328V922.3H331.9V923.4" fill="none" stroke="#C47CFB" stroke-width="2.25" stroke-linejoin="miter" stroke-linecap="butt"/>
<path d="M105.3 849.79V854.39M106.55 850.62V855.22M107.2 851.06V855.66M107.69 851.39V855.99M108.42 851.85V856.45M115.92 856.6V861.2M119.47 859.01V863.61M119.78 859.26V863.86M125.41 863.82V868.42M130.79 868.45V873.05M130.87 868.5V873.1M132.06 869.18V873.78M132.49 869.42V874.02M133.19 869.82V874.42M133.65 870.09V874.69M135.1 870.92V875.52M137.56 871.45V876.05M146.97 873.3V877.9M149.88 874.39V878.99M151.06 874.84V879.44M154.38 876.4V881M155.93 877.37V881.97M156.82 877.93V882.53M158.21 878.79V883.39M172.42 887.18V891.78M172.99 887.4V892M179.46 889.84V894.44M181.3 891V895.6M183 892.07V896.67M183.96 892.68V897.28M184.63 893.11V897.71M185.2 893.46V898.06M189.36 895.96V900.56M192.7 896.75V901.35M196.2 897.34V901.94M200.17 898.01V902.61M203.56 898.58V903.18M214.21 900.34V904.94M217.33 901.49V906.09M223.49 903.68V908.28M230.62 905.56V910.16M232.88 906.16V910.76M233.43 906.3V910.9M238.64 907.07V911.67M240.88 907.37V911.97M241.97 907.52V912.12M242.71 907.63V912.23M242.94 907.66V912.26M244.36 907.85V912.45M246.58 908.28V912.88M247.76 908.51V913.11M249.42 908.84V913.44M252.69 909.5V914.1M252.73 909.51V914.11M254.41 909.84V914.44M255.4 910.04V914.64M255.51 910.06V914.66M259.41 910.61V915.21M266.81 911.63V916.23M272.05 912.29V916.89M279.76 913.19V917.79M280.01 913.21V917.81M281.71 913.35V917.95M282.83 913.45V918.05M283.17 913.48V918.08M286.78 913.79V918.39M294.31 914.43V919.03M294.33 914.43V919.03M300.08 915.44V920.04M301.37 915.68V920.28M305.49 916.46V921.06M306.87 916.72V921.32M309.16 917.15V921.75M312.36 917.75V922.35M312.42 917.77V922.37M314.81 918.12V922.72M317.41 918.49V923.09M320.84 918.98V923.58M324.35 919.48V924.08M324.53 919.5V924.1M327.88 919.98V924.58" stroke="#C47CFB" stroke-width="1" fill="none"/>
<rect x="269.3" y="832" width="17.6" height="4.8" fill="#EE6E69"/>
<rect x="277.2" y="829.4" width="1.8" height="10" fill="#EE6E69"/>
<text x="289.7" y="838.09" font-size="10.3" fill="#111">1980-89</text>
<rect x="269.3" y="844.8" width="17.6" height="4" fill="#78B11A"/>
<rect x="277.2" y="841.8" width="1.8" height="10" fill="#78B11A"/>
<text x="289.7" y="850.49" font-size="10.3" fill="#111">1990-99</text>
<rect x="269.3" y="857.3" width="17.6" height="4" fill="#4FCFC7"/>
<rect x="277.2" y="854.3" width="1.8" height="10" fill="#4FCFC7"/>
<text x="289.7" y="862.99" font-size="10.3" fill="#111">2000-09</text>
<rect x="269.3" y="869.9" width="17.6" height="4" fill="#C47CFB"/>
<rect x="277.2" y="866.9" width="1.8" height="10" fill="#C47CFB"/>
<text x="289.7" y="875.59" font-size="10.3" fill="#111">2010-20</text>
<text x="89.2" y="937.59" font-size="7.8" fill="#000">p = 0.00051</text>
<circle cx="113.7" cy="888.4" r="3.6" fill="#FF0A0A"/>
<circle cx="133.4" cy="888.4" r="3.6" fill="#5E9A35"/>
<circle cx="149.2" cy="888.4" r="3.6" fill="#479FD0"/>
<circle cx="169.5" cy="888.4" r="3.6" fill="#6A2C9E"/>
<text x="102" y="905.18" font-size="11.4" fill="#F01D1D" font-weight="bold">10.2</text>
<text x="128.7" y="910.18" font-size="11.4" fill="#69A838" font-weight="bold">14.4</text>
<text x="141.4" y="875.18" font-size="11.4" fill="#4DB5EC" font-weight="bold">18.9</text>
<text x="174.3" y="887.68" font-size="11.4" fill="#6E2FA0" font-weight="bold">24.7</text>
<text x="43.8" y="1002.33" font-size="6.75" fill="#000">Number at risk</text>
<path d="M43.4 1006.5V1046.2H331.8" fill="none" stroke="#111" stroke-width="1"/>
<rect x="32.9" y="1011.6" width="7" height="2" fill="#EE6E69"/>
<text x="56.8" y="1014.89" font-size="6.4" fill="#000" text-anchor="middle" stroke="#000" stroke-width="0.06">46</text>
<text x="109.07" y="1014.89" font-size="6.4" fill="#000" text-anchor="middle" stroke="#000" stroke-width="0.06">21</text>
<text x="161.34" y="1014.89" font-size="6.4" fill="#000" text-anchor="middle" stroke="#000" stroke-width="0.06">15</text>
<text x="213.61" y="1014.89" font-size="6.4" fill="#000" text-anchor="middle" stroke="#000" stroke-width="0.06">13</text>
<text x="265.88" y="1014.89" font-size="6.4" fill="#000" text-anchor="middle" stroke="#000" stroke-width="0.06">7</text>
<text x="318.15" y="1014.89" font-size="6.4" fill="#000" text-anchor="middle" stroke="#000" stroke-width="0.06">7</text>
<rect x="32.9" y="1021.1" width="7" height="2" fill="#78B11A"/>
<text x="56.8" y="1024.39" font-size="6.4" fill="#000" text-anchor="middle" stroke="#000" stroke-width="0.06">117</text>
<text x="109.07" y="1024.39" font-size="6.4" fill="#000" text-anchor="middle" stroke="#000" stroke-width="0.06">64</text>
<text x="161.34" y="1024.39" font-size="6.4" fill="#000" text-anchor="middle" stroke="#000" stroke-width="0.06">41</text>
<text x="213.61" y="1024.39" font-size="6.4" fill="#000" text-anchor="middle" stroke="#000" stroke-width="0.06">25</text>
<text x="265.88" y="1024.39" font-size="6.4" fill="#000" text-anchor="middle" stroke="#000" stroke-width="0.06">23</text>
<text x="318.15" y="1024.39" font-size="6.4" fill="#000" text-anchor="middle" stroke="#000" stroke-width="0.06">17</text>
<rect x="32.9" y="1030.9" width="7" height="2" fill="#4FCFC7"/>
<text x="56.8" y="1034.19" font-size="6.4" fill="#000" text-anchor="middle" stroke="#000" stroke-width="0.06">170</text>
<text x="109.07" y="1034.19" font-size="6.4" fill="#000" text-anchor="middle" stroke="#000" stroke-width="0.06">103</text>
<text x="161.34" y="1034.19" font-size="6.4" fill="#000" text-anchor="middle" stroke="#000" stroke-width="0.06">71</text>
<text x="213.61" y="1034.19" font-size="6.4" fill="#000" text-anchor="middle" stroke="#000" stroke-width="0.06">50</text>
<text x="265.88" y="1034.19" font-size="6.4" fill="#000" text-anchor="middle" stroke="#000" stroke-width="0.06">35</text>
<text x="318.15" y="1034.19" font-size="6.4" fill="#000" text-anchor="middle" stroke="#000" stroke-width="0.06">28</text>
<rect x="32.9" y="1040.3" width="7" height="2" fill="#C47CFB"/>
<text x="56.8" y="1043.59" font-size="6.4" fill="#000" text-anchor="middle" stroke="#000" stroke-width="0.06">205</text>
<text x="109.07" y="1043.59" font-size="6.4" fill="#000" text-anchor="middle" stroke="#000" stroke-width="0.06">124</text>
<text x="161.34" y="1043.59" font-size="6.4" fill="#000" text-anchor="middle" stroke="#000" stroke-width="0.06">77</text>
<text x="213.61" y="1043.59" font-size="6.4" fill="#000" text-anchor="middle" stroke="#000" stroke-width="0.06">50</text>
<text x="265.88" y="1043.59" font-size="6.4" fill="#000" text-anchor="middle" stroke="#000" stroke-width="0.06">33</text>
<text x="318.15" y="1043.59" font-size="6.4" fill="#000" text-anchor="middle" stroke="#000" stroke-width="0.06">21</text>
<path d="M399.8 804.7V971H683" fill="none" stroke="#222" stroke-width="1.1"/>
<text transform="translate(396.5 815.34) scale(0.9 1)" font-size="8.2" fill="#3a3a3a" text-anchor="end">1.00</text>
<text transform="translate(396.5 853.19) scale(0.9 1)" font-size="8.2" fill="#3a3a3a" text-anchor="end">0.75</text>
<text transform="translate(396.5 891.04) scale(0.9 1)" font-size="8.2" fill="#3a3a3a" text-anchor="end">0.50</text>
<text transform="translate(396.5 928.89) scale(0.9 1)" font-size="8.2" fill="#3a3a3a" text-anchor="end">0.25</text>
<text transform="translate(396.5 966.74) scale(0.9 1)" font-size="8.2" fill="#3a3a3a" text-anchor="end">0.00</text>
<text transform="translate(412.6 980.24) scale(0.9 1)" font-size="8.2" fill="#3a3a3a" text-anchor="middle">0</text>
<text transform="translate(464.16 980.24) scale(0.9 1)" font-size="8.2" fill="#3a3a3a" text-anchor="middle">12</text>
<text transform="translate(515.72 980.24) scale(0.9 1)" font-size="8.2" fill="#3a3a3a" text-anchor="middle">24</text>
<text transform="translate(567.28 980.24) scale(0.9 1)" font-size="8.2" fill="#3a3a3a" text-anchor="middle">36</text>
<text transform="translate(618.84 980.24) scale(0.9 1)" font-size="8.2" fill="#3a3a3a" text-anchor="middle">48</text>
<text transform="translate(670.4 980.24) scale(0.9 1)" font-size="8.2" fill="#3a3a3a" text-anchor="middle">60</text>
<path d="M397.6 812H399.8M397.6 849.85H399.8M397.6 887.7H399.8M397.6 925.55H399.8M397.6 963.4H399.8M412.6 971V973.2M464.16 971V973.2M515.72 971V973.2M567.28 971V973.2M618.84 971V973.2M670.4 971V973.2" stroke="#333" stroke-width="1" fill="none"/>
<text x="541.6" y="989.73" font-size="8.15" fill="#000" text-anchor="middle">Time in months</text>
<text transform="translate(375.8 878.9) rotate(-90)" font-size="12.5" text-anchor="middle" fill="#000">Overall survival</text>
<text x="494.4" y="824.4" font-size="14.5" fill="#000" font-weight="bold">4th line</text>
<path d="M413.1 812.2H416.7H417.2V818.3H420.3V826.5H421.3V829.5H426.4V837.7H427.4V843.8H429.5V852H431.5V859.1H434.6V860.2H435.1V867.3H450.9H451.4V874.5H453.5V875.5H455V879.6H458.1V884.7H473.4V886.7H474.4V891.8H476.4V894.9H476.8V907.6H562.4V915.3H570V915.7H571.1V923.4H574.4V924.4H575.5V931.5H642.3H643.4V939.8H660.9H661.6V947.4H668.6V948.1H669.7V956.2H683.9" fill="none" stroke="#EE6E69" stroke-width="2.25" stroke-linejoin="miter" stroke-linecap="butt"/>
<path d="M480.86 905.3V909.9M495.27 905.3V909.9M512.6 905.3V909.9M535.66 905.3V909.9M559.77 905.3V909.9M565.2 913.15V917.75M580.63 929.2V933.8M606.17 929.2V933.8M612.16 929.2V933.8M616.65 929.2V933.8M663.69 945.31V949.91" stroke="#EE6E69" stroke-width="1" fill="none"/>
<path d="M413.1 812.2H414.3V814.73H415.2V818.3H416.2V821.3H418.2V823.4H419.2V830.5H421.3V833.6H423.3V835.6H424.3V847.9H426.4V851H431.5V851.5H432.5V861.2H433.5V870.4H436.6V872.4H437.15V874.2H439.7V876.5H454V877H455V882.6H458.1V884.7H459.49V887.48H461.1V889.8H463.57V892.88H464.2V894.9H467.2V899H470.3V903.1H478V904.6H481.04V907.3H481.2V909.8H538.1V911.5H539.2V919.7H552.5V920.1H553.6V922.7H576.6V922.9H581V925.5H585.4V929.9H587.6V932.1H631.3H632.4V938.7H642.3V939.8H643.4V942H675.1H676.2V944.6H683.9" fill="none" stroke="#78B11A" stroke-width="2.25" stroke-linejoin="miter" stroke-linecap="butt"/>
<path d="M507.56 908.29V912.89M512.99 908.45V913.05M520.39 908.67V913.27M535.91 909.13V913.73M547.84 917.66V922.26M550.09 917.73V922.33M572.63 920.57V925.17M671.48 939.7V944.3" stroke="#78B11A" stroke-width="1" fill="none"/>
<path d="M413.1 812.2H413.41V813.94H415.49V814.94H416.2V816.2H417.76V817.22H418.26V818.55H420.3V820.3H422.08V821.87H422.19V822.87H422.87V823.94H423.3V825.4H424.2V827.15H424.28V828.64H424.67V830.33H425.67V831.88H425.78V833.27H426.4V834.6H428.93V835.77H429.25V836.72H429.36V838.07H430.5V839.7H431.95V841.65H434.6V842.8H434.93V844.28H435.09V845.2H435.8V846.33H437.6V847.9H438.02V849.25H438.08V850.52H439.6V851.49H440.54V852.69H440.7V854H441.79V855.39H442.88V856.67H443.1V857.93H444.14V859.04H444.8V860.2H447.54V861.61H447.79V863.09H447.84V864.11H448.36V865.16H448.9V866.3H450.73V867.96H450.92V869.02H451.9V870.4H456.19V871.73H457V873.4H457.44V874.65H461.1V875.5H462.24V877.17H462.78V878.39H466.2V879.6H467.19V881.14H468.06V882.21H468.19V883.57H469.3V884.7H474.4V885.7H476.76V887.28H478V888.8H479.16V890.26H480.78V891.86H481.2V893.4H484.17V894.5H484.76V895.44H485.99V896.89H488.01V898.38H490V900H491.31V901.52H495.02V902.91H496.31V904.95H498.7V906.5H499.63V907.85H499.93V909.01H502.42V910.32H502.69V911.54H505.3V913.1H510.47V914.48H510.52V915.88H512.19V916.94H515.39V918.4H516.2V919.7H518.48V920.73H520.31V922.41H521.7V923.74H522.03V925.03H529.4V926.2H537.3V927.64H541.6V929.3H559.1V929.9H559.51V931.49H562.4V933.2H583.2V934.3H600.7V935.4H606.88V936.86H607.3V938.7H616.28V939.97H622.6V940.9H625.02V942.03H627V943.1H640.1V943.7H644.5V945.2H655.4V946.3H666.4V947.4H677.3V948.5H682.85V949.59H683.9V950.7" fill="none" stroke="#4FCFC7" stroke-width="2.25" stroke-linejoin="miter" stroke-linecap="butt"/>
<path d="M471.61 882.85V887.45M486.82 895.32V899.92M494.91 901.37V905.97M505.63 911V915.6M509.77 913.51V918.11M518.35 918.46V923.06M518.63 918.6V923.2M520.9 919.71V924.31M535.68 925.5V930.1M540.35 926.68V931.28M554.79 927.45V932.05M590.72 932.47V937.07M594.96 932.74V937.34M614.84 937.48V942.08M659.68 944.43V949.03M670.92 945.56V950.16M673.19 945.79V950.39M678.32 946.54V951.14" stroke="#4FCFC7" stroke-width="1" fill="none"/>
<path d="M413.1 812.2H415.2V813.24H416.32V814.23H417.2V815.2H418.14V816.54H419.2V817.88H419.59V819.25H420.09V820.45H420.3V821.3H421.39V822.39H421.66V823.39H423.3V824.4H423.97V825.84H424.26V826.95H425.14V828.4H425.42V829.99H425.45V831.32H426.4V832.6H427.04V833.56H427.66V834.65H431.5V835.6H434.26V837.5H437.6V838.7H438.45V840.3H439.7V841.8H440.7V845.9H441.51V846.97H442.32V848.49H442.48V849.53H445.8V851H446.68V852.43H447.37V853.57H450.9V855H452.13V856.72H457V858.1H459.65V859.18H461.14V860.84H462.1V862.2H466.52V863.97H467.2V865.3H470.93V866.8H471.3V868.3H471.71V870.07H474.01V871.86V873.35H474.4V874.5H475.42V875.91H475.46V877H476.15V878.82H478V880.6H478.33V881.68H479.06V882.8H481.2V884.6H484.66V885.62H485.6V886.8H489.49V888.12H490.37V889.23H491.48V890.47H491.49V891.78H494.3V893.4H511.9V895.6H513.53V897.63H520.6V900H522.94V901.78H523.33V903.55H525.07V905.72H527.2V907.6H554.7V908H561.3V910.9H574.4V913.5H596.3V915.3H599.19V917.8H602.9V920.1H609.25V921.84H611.6V924H633.5V925.5H635.7V927.7H652.1V928.2H653.2V930.6H683.9" fill="none" stroke="#C47CFB" stroke-width="2.25" stroke-linejoin="miter" stroke-linecap="butt"/>
<path d="M470 865.05V869.65M472.52 868.45V873.05M484.35 883.88V888.48M485.84 884.68V889.28M490.18 887.98V892.58M496.74 891.41V896.01M496.79 891.41V896.01M497.25 891.47V896.07M515.56 895.15V899.75M518.9 896.84V901.44M533.2 905.39V909.99M538.5 905.46V910.06M574.43 911.2V915.8M588.77 912.38V916.98M593.16 912.74V917.34M594.89 912.88V917.48M596.98 913.49V918.09M598.45 914.56V919.16M599.59 915.39V919.99M604.19 918.38V922.98M619.7 922.25V926.85M629.25 922.91V927.51M635.32 925.02V929.62" stroke="#C47CFB" stroke-width="1" fill="none"/>
<rect x="614.3" y="832" width="17.6" height="4.8" fill="#EE6E69"/>
<rect x="622.2" y="829.4" width="1.8" height="10" fill="#EE6E69"/>
<text x="634.7" y="838.09" font-size="10.3" fill="#111">1980-89</text>
<rect x="614.3" y="844.8" width="17.6" height="4" fill="#78B11A"/>
<rect x="622.2" y="841.8" width="1.8" height="10" fill="#78B11A"/>
<text x="634.7" y="850.49" font-size="10.3" fill="#111">1990-99</text>
<rect x="614.3" y="857.3" width="17.6" height="4" fill="#4FCFC7"/>
<rect x="622.2" y="854.3" width="1.8" height="10" fill="#4FCFC7"/>
<text x="634.7" y="862.99" font-size="10.3" fill="#111">2000-09</text>
<rect x="614.3" y="869.9" width="17.6" height="4" fill="#C47CFB"/>
<rect x="622.2" y="866.9" width="1.8" height="10" fill="#C47CFB"/>
<text x="634.7" y="875.59" font-size="10.3" fill="#111">2010-20</text>
<text x="432.6" y="936.73" font-size="7.9" fill="#000">p = 0.059</text>
<circle cx="451.9" cy="884.4" r="3.6" fill="#5E9A35"/>
<circle cx="462.6" cy="884.7" r="3.6" fill="#FF0A0A"/>
<circle cx="468.6" cy="884.7" r="3.6" fill="#479FD0"/>
<circle cx="481.2" cy="884.6" r="3.6" fill="#6A2C9E"/>
<text x="460.1" y="918.88" font-size="11.4" fill="#F01D1D" font-weight="bold">14.2</text>
<text x="433.7" y="899.18" font-size="11.4" fill="#69A838" font-weight="bold">11.0</text>
<text x="478.7" y="900.28" font-size="11.4" fill="#4DB5EC" font-weight="bold">14.9</text>
<text x="486.4" y="887.78" font-size="11.4" fill="#6E2FA0" font-weight="bold">18.0</text>
<text x="393.1" y="1002.33" font-size="6.75" fill="#000">Number at risk</text>
<path d="M393.3 1006.5V1046.2H683" fill="none" stroke="#111" stroke-width="1"/>
<rect x="382" y="1011.9" width="7.4" height="2" fill="#EE6E69"/>
<text x="406.1" y="1015.19" font-size="6.4" fill="#000" text-anchor="middle" stroke="#000" stroke-width="0.06">19</text>
<text x="458.82" y="1015.19" font-size="6.4" fill="#000" text-anchor="middle" stroke="#000" stroke-width="0.06">10</text>
<text x="511.54" y="1015.19" font-size="6.4" fill="#000" text-anchor="middle" stroke="#000" stroke-width="0.06">7</text>
<text x="564.26" y="1015.19" font-size="6.4" fill="#000" text-anchor="middle" stroke="#000" stroke-width="0.06">6</text>
<text x="616.98" y="1015.19" font-size="6.4" fill="#000" text-anchor="middle" stroke="#000" stroke-width="0.06">4</text>
<text x="669.7" y="1015.19" font-size="6.4" fill="#000" text-anchor="middle" stroke="#000" stroke-width="0.06">1</text>
<rect x="382" y="1021.4" width="7.4" height="2" fill="#78B11A"/>
<text x="406.1" y="1024.69" font-size="6.4" fill="#000" text-anchor="middle" stroke="#000" stroke-width="0.06">51</text>
<text x="458.82" y="1024.69" font-size="6.4" fill="#000" text-anchor="middle" stroke="#000" stroke-width="0.06">23</text>
<text x="511.54" y="1024.69" font-size="6.4" fill="#000" text-anchor="middle" stroke="#000" stroke-width="0.06">16</text>
<text x="564.26" y="1024.69" font-size="6.4" fill="#000" text-anchor="middle" stroke="#000" stroke-width="0.06">13</text>
<text x="616.98" y="1024.69" font-size="6.4" fill="#000" text-anchor="middle" stroke="#000" stroke-width="0.06">10</text>
<text x="669.7" y="1024.69" font-size="6.4" fill="#000" text-anchor="middle" stroke="#000" stroke-width="0.06">7</text>
<rect x="382" y="1031" width="7.4" height="2" fill="#4FCFC7"/>
<text x="406.1" y="1034.29" font-size="6.4" fill="#000" text-anchor="middle" stroke="#000" stroke-width="0.06">121</text>
<text x="458.82" y="1034.29" font-size="6.4" fill="#000" text-anchor="middle" stroke="#000" stroke-width="0.06">66</text>
<text x="511.54" y="1034.29" font-size="6.4" fill="#000" text-anchor="middle" stroke="#000" stroke-width="0.06">30</text>
<text x="564.26" y="1034.29" font-size="6.4" fill="#000" text-anchor="middle" stroke="#000" stroke-width="0.06">20</text>
<text x="616.98" y="1034.29" font-size="6.4" fill="#000" text-anchor="middle" stroke="#000" stroke-width="0.06">16</text>
<text x="669.7" y="1034.29" font-size="6.4" fill="#000" text-anchor="middle" stroke="#000" stroke-width="0.06">11</text>
<rect x="382" y="1040.5" width="7.4" height="2" fill="#C47CFB"/>
<text x="406.1" y="1043.79" font-size="6.4" fill="#000" text-anchor="middle" stroke="#000" stroke-width="0.06">130</text>
<text x="458.82" y="1043.79" font-size="6.4" fill="#000" text-anchor="middle" stroke="#000" stroke-width="0.06">72</text>
<text x="511.54" y="1043.79" font-size="6.4" fill="#000" text-anchor="middle" stroke="#000" stroke-width="0.06">37</text>
<text x="564.26" y="1043.79" font-size="6.4" fill="#000" text-anchor="middle" stroke="#000" stroke-width="0.06">24</text>
<text x="616.98" y="1043.79" font-size="6.4" fill="#000" text-anchor="middle" stroke="#000" stroke-width="0.06">15</text>
<text x="669.7" y="1043.79" font-size="6.4" fill="#000" text-anchor="middle" stroke="#000" stroke-width="0.06">9</text>
</svg>
</body></html>
